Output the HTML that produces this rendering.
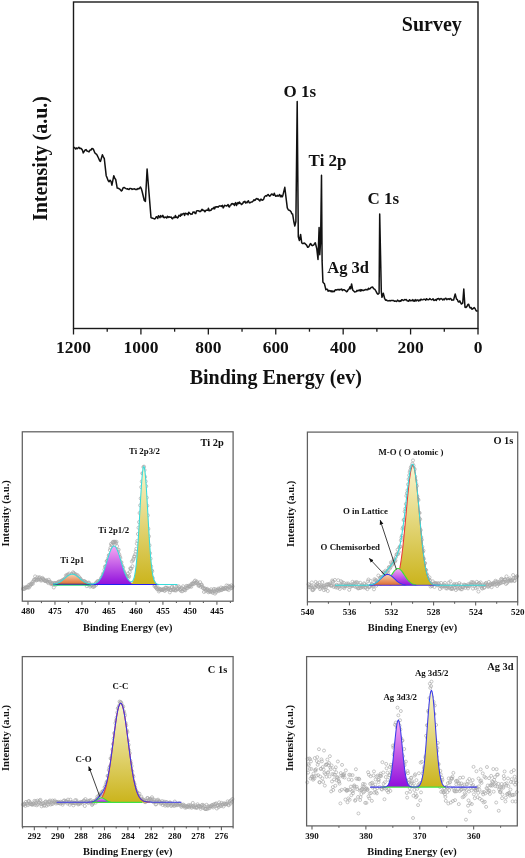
<!DOCTYPE html>
<html><head><meta charset="utf-8"><style>
html,body{margin:0;padding:0;background:#fff;}
svg{display:block;will-change:transform;}
text{font-family:"Liberation Serif", serif;font-weight:bold;fill:#111;}
</style></head><body>
<svg width="525" height="858" viewBox="0 0 525 858">
<defs>
<linearGradient id="gO" x1="0" y1="0" x2="0" y2="1"><stop offset="0" stop-color="#f8d2b4"/><stop offset="1" stop-color="#dc6a2c"/></linearGradient>
<linearGradient id="gP" x1="0" y1="0" x2="0" y2="1"><stop offset="0" stop-color="#f6aaf2"/><stop offset="1" stop-color="#9010dc"/></linearGradient>
<linearGradient id="gY" x1="0" y1="0" x2="0" y2="1"><stop offset="0" stop-color="#f9f5cf"/><stop offset="1" stop-color="#cbb41c"/></linearGradient>
<marker id="ah" viewBox="0 0 10 10" refX="9" refY="5" markerWidth="6" markerHeight="6" orient="auto"><path d="M0,1 L10,5 L0,9 Z" fill="#111"/></marker>
</defs>
<rect width="525" height="858" fill="#fff"/>
<rect x="73.5" y="2.0" width="404.5" height="326.5" fill="none" stroke="#1a1a1a" stroke-width="1.4"/>
<line x1="478" y1="328.5" x2="478" y2="334.5" stroke="#1a1a1a" stroke-width="1.3"/>
<line x1="444.29" y1="328.5" x2="444.29" y2="331.7" stroke="#1a1a1a" stroke-width="1.3"/>
<line x1="410.58" y1="328.5" x2="410.58" y2="334.5" stroke="#1a1a1a" stroke-width="1.3"/>
<line x1="376.88" y1="328.5" x2="376.88" y2="331.7" stroke="#1a1a1a" stroke-width="1.3"/>
<line x1="343.17" y1="328.5" x2="343.17" y2="334.5" stroke="#1a1a1a" stroke-width="1.3"/>
<line x1="309.46" y1="328.5" x2="309.46" y2="331.7" stroke="#1a1a1a" stroke-width="1.3"/>
<line x1="275.75" y1="328.5" x2="275.75" y2="334.5" stroke="#1a1a1a" stroke-width="1.3"/>
<line x1="242.04" y1="328.5" x2="242.04" y2="331.7" stroke="#1a1a1a" stroke-width="1.3"/>
<line x1="208.33" y1="328.5" x2="208.33" y2="334.5" stroke="#1a1a1a" stroke-width="1.3"/>
<line x1="174.62" y1="328.5" x2="174.62" y2="331.7" stroke="#1a1a1a" stroke-width="1.3"/>
<line x1="140.92" y1="328.5" x2="140.92" y2="334.5" stroke="#1a1a1a" stroke-width="1.3"/>
<line x1="107.21" y1="328.5" x2="107.21" y2="331.7" stroke="#1a1a1a" stroke-width="1.3"/>
<line x1="73.5" y1="328.5" x2="73.5" y2="334.5" stroke="#1a1a1a" stroke-width="1.3"/>
<text transform="translate(478,353.3) scale(1,0.95)" font-size="17.5" text-anchor="middle">0</text>
<text transform="translate(410.58,353.3) scale(1,0.95)" font-size="17.5" text-anchor="middle">200</text>
<text transform="translate(343.17,353.3) scale(1,0.95)" font-size="17.5" text-anchor="middle">400</text>
<text transform="translate(275.75,353.3) scale(1,0.95)" font-size="17.5" text-anchor="middle">600</text>
<text transform="translate(208.33,353.3) scale(1,0.95)" font-size="17.5" text-anchor="middle">800</text>
<text transform="translate(140.92,353.3) scale(1,0.95)" font-size="17.5" text-anchor="middle">1000</text>
<text transform="translate(73.5,353.3) scale(1,0.95)" font-size="17.5" text-anchor="middle">1200</text>
<text x="275.8" y="384.2" font-size="20" text-anchor="middle">Binding Energy (ev)</text>
<text transform="translate(47.2,158.6) rotate(-90)" font-size="20" text-anchor="middle">Intensity (a.u.)</text>
<text x="461.8" y="31" font-size="20" text-anchor="end">Survey</text>
<text x="283.6" y="97.3" font-size="17">O 1s</text>
<text x="308.6" y="165.6" font-size="17">Ti 2p</text>
<text x="367.6" y="204" font-size="17">C 1s</text>
<text x="327.3" y="273.1" font-size="16.5">Ag 3d</text>
<path d="M73.5,147.1 L74.6,147.7 L75.7,149 L76.47,147.97 L77.23,148.64 L78,148 L78.85,147.32 L79.7,148.42 L80.55,148.26 L81.4,148.7 L82.35,149.92 L83.3,152.9 L84.25,151.46 L85.2,150 L86.1,149.57 L87,151 L88,151.32 L89,151.9 L90,150.09 L91,150 L91.95,148.53 L92.9,148.7 L93.83,150.25 L94.77,152.75 L95.7,153.8 L96.47,154.11 L97.23,155.38 L98,157 L98.83,158.72 L99.67,160.83 L100.5,161.4 L102.4,154.8 L103.35,156.85 L104.3,158.6 L106.2,175.7 L107.15,177.89 L108.1,180.5 L109.07,181.75 L110.03,180.19 L111,181.4 L111.9,185.2 L113.8,175.7 L114.75,178.32 L115.7,179.5 L117.2,188.1 L118.04,188.26 L118.88,188.55 L119.72,189.08 L120.56,190.04 L121.4,191 L122.2,190.13 L123,188 L124.1,187.41 L125.2,188.1 L125.96,188.54 L126.72,188.94 L127.48,188.68 L128.24,189.32 L129,189.5 L129.78,188.53 L130.56,188.42 L131.34,188.61 L132.12,189.46 L132.9,189 L133.72,188.96 L134.54,188.83 L135.36,189.47 L136.18,189.31 L137,189.5 L137.88,188.5 L138.75,188.89 L139.62,188.1 L140.5,187.1 L141.25,188.54 L142,191 L144.3,200.5 L145.4,201.4 L147.1,169 L149,192.9 L151,217.6 L151.93,218.08 L152.87,218.32 L153.8,218.6 L154.6,218.95 L155.4,218.53 L156.2,216.72 L157,217 L157.73,218.49 L158.47,215.68 L159.2,216.59 L159.93,217.62 L160.67,215.64 L161.4,216.7 L162.12,216.72 L162.84,215.35 L163.56,217.42 L164.28,217.79 L165,217 L165.8,217.17 L166.6,218.08 L167.4,216.22 L168.2,217.38 L169,216.7 L169.72,217.14 L170.43,217.22 L171.15,216.96 L171.87,218.32 L172.58,218.79 L173.3,217.5 L174.01,217.23 L174.71,217.66 L175.42,215.54 L176.12,217.41 L176.83,217.05 L177.53,217.97 L178.24,217.24 L178.94,215.34 L179.65,215.48 L180.35,216.2 L181.06,213.95 L181.76,215.17 L182.47,214.04 L183.17,213.7 L183.88,213.33 L184.58,215.41 L185.29,213.18 L185.99,213.38 L186.7,214 L187.4,213.51 L188.1,214.9 L188.8,212.23 L189.5,213.27 L190.2,213.45 L190.9,214.37 L191.6,214.03 L192.3,214.03 L193,212.01 L193.7,212.31 L194.4,211.98 L195.1,213.52 L195.8,213.62 L196.5,210.89 L197.2,210.83 L197.9,210.87 L198.6,210.73 L199.3,211.39 L200,211.3 L200.7,211.45 L201.4,210.27 L202.1,209.3 L202.8,210.49 L203.5,210.2 L204.2,210.69 L204.9,211.79 L205.6,210.81 L206.3,210.12 L207,210.31 L207.7,210.36 L208.4,208.23 L209.1,210.8 L209.8,210.28 L210.5,210.45 L211.2,210.06 L211.9,208.63 L212.6,208.51 L213.3,208.7 L214.01,207.29 L214.71,208.85 L215.42,206.87 L216.12,206.75 L216.83,207.06 L217.53,206.77 L218.24,207.19 L218.94,206.13 L219.65,205.82 L220.35,206.16 L221.06,205.86 L221.76,206.56 L222.47,205.33 L223.17,207.91 L223.88,206.93 L224.58,205.3 L225.29,205.49 L225.99,205.65 L226.7,206 L227.4,205.42 L228.1,204.51 L228.8,206.69 L229.5,207.01 L230.2,205.18 L230.9,205.1 L231.6,203.68 L232.3,203.59 L233,204.22 L233.7,203.83 L234.4,205.49 L235.1,203.21 L235.8,202.63 L236.5,205.45 L237.2,203.96 L237.9,202.6 L238.6,203.72 L239.3,201.93 L240,203.3 L240.7,203.25 L241.4,204.56 L242.1,204.05 L242.8,203.38 L243.5,201.85 L244.2,202.05 L244.9,201.28 L245.6,203.08 L246.3,202.17 L247,202.82 L247.7,201.25 L248.4,200.77 L249.1,202.52 L249.8,202.94 L250.5,202.38 L251.2,202.09 L251.9,201.99 L252.6,201.6 L253.3,200.7 L254.03,199.7 L254.75,200.5 L255.48,199.86 L256.21,198.68 L256.94,198.55 L257.66,199.23 L258.39,199.04 L259.12,200.3 L259.85,201.02 L260.57,199.26 L261.3,199.3 L262.07,200.24 L262.84,199.95 L263.61,199.38 L264.39,197.04 L265.16,196.12 L265.93,195.68 L266.7,196.1 L267.46,194.83 L268.21,194.55 L268.97,195.6 L269.73,196.18 L270.49,195.69 L271.24,194.23 L272,194 L272.76,194.68 L273.51,195.33 L274.27,193.23 L275.03,195.26 L275.79,196.24 L276.54,196.02 L277.3,195.3 L278.07,196.21 L278.84,195.46 L279.61,194.61 L280.39,196.68 L281.16,195.34 L281.93,196.95 L282.7,196.1 L284.8,187.3 L285.9,196.7 L287.3,207.9 L288.4,209.99 L289.5,210.2 L290.27,210.92 L291.05,211.85 L291.83,213.87 L292.6,213.9 L293.8,221.5 L294.8,226.1 L295.9,221.5 L297.2,101.5 L298.3,236.7 L299.4,240.5 L300.6,234.4 L301.7,242.7 L302.45,243.55 L303.2,243.5 L303.97,243.07 L304.73,243.22 L305.5,244.2 L306.6,245.05 L307.7,247.3 L308.47,247.08 L309.23,245.85 L310,244.2 L310.76,243.65 L311.52,245.17 L312.28,245.64 L313.04,245.15 L313.8,245 L314.55,243.55 L315.3,242.7 L316.8,248.8 L318,259.4 L319.1,227.6 L319.8,254.8 L320.6,241.2 L321.5,175.2 L322.1,260.9 L322.9,282.1 L323.65,282.95 L324.4,283.6 L325.9,289.7 L326.65,289.16 L327.4,289.13 L328.15,291.24 L328.9,290.5 L329.67,290.92 L330.43,290.79 L331.2,291.72 L331.97,290.83 L332.73,291.83 L333.5,291.2 L334.3,291.55 L335.1,290.02 L335.9,289.8 L336.7,290 L337.52,289.55 L338.35,289.41 L339.18,290.06 L340,289.37 L340.82,289.65 L341.65,289.04 L342.48,290.56 L343.3,289.7 L344.1,289.73 L344.9,290.26 L345.7,290.83 L346.5,291.79 L347.3,291.3 L348.2,289.61 L349.1,289.07 L350,286.7 L350.7,288.7 L351.6,284 L352.7,290 L353.7,291 L354.7,292 L355.47,291.85 L356.23,291.61 L357,290.39 L357.77,291.01 L358.53,290.28 L359.3,290.7 L360.07,289.61 L360.84,291.1 L361.61,289.74 L362.39,290.25 L363.16,290.65 L363.93,290.21 L364.7,290 L365.46,289.47 L366.21,289.67 L366.97,289.55 L367.73,289.83 L368.49,288.28 L369.24,289.01 L370,288.7 L370.9,287.66 L371.8,287.19 L372.7,287.1 L373.57,288.61 L374.43,289.05 L375.3,290 L376.2,291.56 L377.1,293.39 L378,294.3 L379.1,293.3 L379.7,213.9 L381.3,291.3 L382,297.3 L383.3,293.3 L384.7,298.7 L385.57,300.19 L386.43,299.92 L387.3,300.7 L388.07,300.88 L388.84,300.63 L389.61,300.6 L390.39,300.91 L391.16,300.39 L391.93,300.51 L392.7,300.4 L393.51,300.39 L394.32,301.35 L395.13,300.9 L395.94,301.29 L396.76,301.45 L397.57,300.12 L398.38,300.75 L399.19,301.55 L400,300.7 L400.77,301.3 L401.55,299.82 L402.33,299.72 L403.1,300.4 L403.91,300.28 L404.72,299.55 L405.53,299.88 L406.34,299.55 L407.15,300.74 L407.96,300.97 L408.77,301.19 L409.58,299.71 L410.39,300.83 L411.2,300.4 L412.01,300.68 L412.82,299.61 L413.63,301.05 L414.44,301.18 L415.25,299.64 L416.06,301.07 L416.87,299.92 L417.68,300.05 L418.49,301.02 L419.3,300 L420.11,300.62 L420.92,299.24 L421.73,299.74 L422.54,299.87 L423.35,299.48 L424.16,299.15 L424.97,299.36 L425.78,300.12 L426.59,298.68 L427.4,299.6 L428.21,299.71 L429.02,299.48 L429.83,298.64 L430.64,299.26 L431.45,299.85 L432.26,299.62 L433.07,298.73 L433.88,300.57 L434.69,300.18 L435.5,299.6 L436.31,300.49 L437.12,298.71 L437.93,298.98 L438.74,298.48 L439.55,299.91 L440.36,298.84 L441.17,298.51 L441.98,299.04 L442.79,299.97 L443.6,299.1 L444.4,299.69 L445.2,298.52 L446,298.25 L446.8,299.74 L447.6,298.99 L448.4,298.8 L449.22,299.44 L450.04,298.46 L450.86,298.64 L451.68,300.14 L452.5,300 L453.6,300 L454.4,296.85 L455.2,294 L456.5,299.1 L457.3,299.49 L458.1,301.6 L458.95,302.08 L459.8,300.8 L460.6,302.67 L461.4,304 L462.7,303.2 L463.8,289.1 L465,307.2 L466,307.4 L467,306.4 L467.85,304.52 L468.7,304.3 L469.5,306.86 L470.3,308 L471.1,307.43 L471.9,309.33 L472.7,308.9 L473.5,308.16 L474.3,307.6 L475.15,308.73 L476,310.5 L476.8,311.01 L477.6,311.3" fill="none" stroke="#111" stroke-width="1.5" stroke-linejoin="round"/>
<g fill="none" stroke="#a6a6a6" stroke-width="0.65"><circle cx="23" cy="589.09" r="1.55"/><circle cx="23.55" cy="587.53" r="1.55"/><circle cx="24.1" cy="588.89" r="1.55"/><circle cx="24.65" cy="588.77" r="1.55"/><circle cx="25.2" cy="587.48" r="1.55"/><circle cx="25.75" cy="587.87" r="1.55"/><circle cx="26.3" cy="587.29" r="1.55"/><circle cx="26.85" cy="587.24" r="1.55"/><circle cx="27.4" cy="587.04" r="1.55"/><circle cx="27.95" cy="587.59" r="1.55"/><circle cx="28.5" cy="585.26" r="1.55"/><circle cx="29.05" cy="587.51" r="1.55"/><circle cx="29.6" cy="584.52" r="1.55"/><circle cx="30.15" cy="585.83" r="1.55"/><circle cx="30.7" cy="584.33" r="1.55"/><circle cx="31.25" cy="584.33" r="1.55"/><circle cx="31.8" cy="583.68" r="1.55"/><circle cx="32.35" cy="582.26" r="1.55"/><circle cx="32.9" cy="583.7" r="1.55"/><circle cx="33.45" cy="581.25" r="1.55"/><circle cx="34" cy="579.7" r="1.55"/><circle cx="34.55" cy="579.68" r="1.55"/><circle cx="35.1" cy="576.4" r="1.55"/><circle cx="35.65" cy="579.33" r="1.55"/><circle cx="36.2" cy="580.42" r="1.55"/><circle cx="36.75" cy="580.11" r="1.55"/><circle cx="37.3" cy="577.33" r="1.55"/><circle cx="37.85" cy="579.44" r="1.55"/><circle cx="38.4" cy="579.56" r="1.55"/><circle cx="38.95" cy="577.87" r="1.55"/><circle cx="39.5" cy="577.1" r="1.55"/><circle cx="40.05" cy="579.09" r="1.55"/><circle cx="40.6" cy="580.45" r="1.55"/><circle cx="41.15" cy="579.23" r="1.55"/><circle cx="41.7" cy="580.45" r="1.55"/><circle cx="42.25" cy="577.81" r="1.55"/><circle cx="42.8" cy="578.89" r="1.55"/><circle cx="43.35" cy="578.95" r="1.55"/><circle cx="43.9" cy="579.88" r="1.55"/><circle cx="44.45" cy="580.66" r="1.55"/><circle cx="45" cy="580.83" r="1.55"/><circle cx="45.55" cy="581.03" r="1.55"/><circle cx="46.1" cy="580.79" r="1.55"/><circle cx="46.65" cy="580.03" r="1.55"/><circle cx="47.2" cy="581.49" r="1.55"/><circle cx="47.75" cy="581.85" r="1.55"/><circle cx="48.3" cy="583.06" r="1.55"/><circle cx="48.85" cy="579.74" r="1.55"/><circle cx="49.4" cy="581.76" r="1.55"/><circle cx="49.95" cy="581.64" r="1.55"/><circle cx="50.5" cy="582.93" r="1.55"/><circle cx="51.05" cy="584.26" r="1.55"/><circle cx="51.6" cy="582.73" r="1.55"/><circle cx="52.15" cy="583.94" r="1.55"/><circle cx="52.7" cy="583.07" r="1.55"/><circle cx="53.25" cy="584.48" r="1.55"/><circle cx="53.8" cy="587.46" r="1.55"/><circle cx="54.35" cy="583.15" r="1.55"/><circle cx="54.9" cy="582.95" r="1.55"/><circle cx="55.45" cy="583.48" r="1.55"/><circle cx="56" cy="584.72" r="1.55"/><circle cx="56.55" cy="583.23" r="1.55"/><circle cx="57.1" cy="583.25" r="1.55"/><circle cx="57.65" cy="583.13" r="1.55"/><circle cx="58.2" cy="581.78" r="1.55"/><circle cx="58.75" cy="583.61" r="1.55"/><circle cx="59.3" cy="581.47" r="1.55"/><circle cx="59.85" cy="582.02" r="1.55"/><circle cx="60.4" cy="581.59" r="1.55"/><circle cx="60.95" cy="581.38" r="1.55"/><circle cx="61.5" cy="580.97" r="1.55"/><circle cx="62.05" cy="581.2" r="1.55"/><circle cx="62.6" cy="579.93" r="1.55"/><circle cx="63.15" cy="580.03" r="1.55"/><circle cx="63.7" cy="580.47" r="1.55"/><circle cx="64.25" cy="579.08" r="1.55"/><circle cx="64.8" cy="578.66" r="1.55"/><circle cx="65.35" cy="579.73" r="1.55"/><circle cx="65.9" cy="575.44" r="1.55"/><circle cx="66.45" cy="576.73" r="1.55"/><circle cx="67" cy="575.57" r="1.55"/><circle cx="67.55" cy="574.58" r="1.55"/><circle cx="68.1" cy="576.86" r="1.55"/><circle cx="68.65" cy="574.7" r="1.55"/><circle cx="69.2" cy="573.56" r="1.55"/><circle cx="69.75" cy="578.37" r="1.55"/><circle cx="70.3" cy="576.06" r="1.55"/><circle cx="70.85" cy="576.36" r="1.55"/><circle cx="71.4" cy="574.34" r="1.55"/><circle cx="71.95" cy="574.23" r="1.55"/><circle cx="72.5" cy="575.96" r="1.55"/><circle cx="73.05" cy="572.27" r="1.55"/><circle cx="73.6" cy="573.29" r="1.55"/><circle cx="74.15" cy="573.44" r="1.55"/><circle cx="74.7" cy="575.47" r="1.55"/><circle cx="75.25" cy="574.83" r="1.55"/><circle cx="75.8" cy="574.3" r="1.55"/><circle cx="76.35" cy="575.96" r="1.55"/><circle cx="76.9" cy="577.79" r="1.55"/><circle cx="77.45" cy="575.01" r="1.55"/><circle cx="78" cy="578.28" r="1.55"/><circle cx="78.55" cy="576.43" r="1.55"/><circle cx="79.1" cy="579.98" r="1.55"/><circle cx="79.65" cy="577.7" r="1.55"/><circle cx="80.2" cy="579.08" r="1.55"/><circle cx="80.75" cy="579.01" r="1.55"/><circle cx="81.3" cy="581.04" r="1.55"/><circle cx="81.85" cy="580.94" r="1.55"/><circle cx="82.4" cy="580.85" r="1.55"/><circle cx="82.95" cy="582.12" r="1.55"/><circle cx="83.5" cy="582.9" r="1.55"/><circle cx="84.05" cy="580.98" r="1.55"/><circle cx="84.6" cy="581.48" r="1.55"/><circle cx="85.15" cy="581.74" r="1.55"/><circle cx="85.7" cy="582.7" r="1.55"/><circle cx="86.25" cy="582.23" r="1.55"/><circle cx="86.8" cy="586.15" r="1.55"/><circle cx="87.35" cy="584.09" r="1.55"/><circle cx="87.9" cy="584.2" r="1.55"/><circle cx="88.45" cy="582.84" r="1.55"/><circle cx="89" cy="582.65" r="1.55"/><circle cx="89.55" cy="584.2" r="1.55"/><circle cx="90.1" cy="586.66" r="1.55"/><circle cx="90.65" cy="585.64" r="1.55"/><circle cx="91.2" cy="584.82" r="1.55"/><circle cx="91.75" cy="585.36" r="1.55"/><circle cx="92.3" cy="584.64" r="1.55"/><circle cx="92.85" cy="586.91" r="1.55"/><circle cx="93.4" cy="585.36" r="1.55"/><circle cx="93.95" cy="586.73" r="1.55"/><circle cx="94.5" cy="586.07" r="1.55"/><circle cx="95.05" cy="584.18" r="1.55"/><circle cx="95.6" cy="583.11" r="1.55"/><circle cx="96.15" cy="584.96" r="1.55"/><circle cx="96.7" cy="582.77" r="1.55"/><circle cx="97.25" cy="581.28" r="1.55"/><circle cx="97.8" cy="581.5" r="1.55"/><circle cx="98.35" cy="581.13" r="1.55"/><circle cx="98.9" cy="582.45" r="1.55"/><circle cx="99.45" cy="581.48" r="1.55"/><circle cx="100" cy="580.33" r="1.55"/><circle cx="100.55" cy="581.66" r="1.55"/><circle cx="101.1" cy="577.99" r="1.55"/><circle cx="101.65" cy="579.07" r="1.55"/><circle cx="102.2" cy="576.75" r="1.55"/><circle cx="102.75" cy="575.02" r="1.55"/><circle cx="103.3" cy="573.34" r="1.55"/><circle cx="103.85" cy="573.95" r="1.55"/><circle cx="104.4" cy="569.67" r="1.55"/><circle cx="104.95" cy="566.77" r="1.55"/><circle cx="105.5" cy="566.32" r="1.55"/><circle cx="106.05" cy="566.26" r="1.55"/><circle cx="106.6" cy="561.27" r="1.55"/><circle cx="107.15" cy="560.89" r="1.55"/><circle cx="107.7" cy="560.43" r="1.55"/><circle cx="108.25" cy="558.09" r="1.55"/><circle cx="108.8" cy="555.19" r="1.55"/><circle cx="109.35" cy="555.35" r="1.55"/><circle cx="109.9" cy="550.13" r="1.55"/><circle cx="110.45" cy="547.91" r="1.55"/><circle cx="111" cy="543.94" r="1.55"/><circle cx="111.55" cy="545.36" r="1.55"/><circle cx="112.1" cy="544.87" r="1.55"/><circle cx="112.65" cy="542.22" r="1.55"/><circle cx="113.2" cy="541.74" r="1.55"/><circle cx="113.75" cy="542.42" r="1.55"/><circle cx="114.3" cy="542.4" r="1.55"/><circle cx="114.85" cy="541.64" r="1.55"/><circle cx="115.4" cy="542.03" r="1.55"/><circle cx="115.95" cy="543.34" r="1.55"/><circle cx="116.5" cy="541.84" r="1.55"/><circle cx="117.05" cy="546.1" r="1.55"/><circle cx="117.6" cy="549.99" r="1.55"/><circle cx="118.15" cy="552.1" r="1.55"/><circle cx="118.7" cy="549.68" r="1.55"/><circle cx="119.25" cy="554.4" r="1.55"/><circle cx="119.8" cy="556.47" r="1.55"/><circle cx="120.35" cy="558.05" r="1.55"/><circle cx="120.9" cy="562.33" r="1.55"/><circle cx="121.45" cy="562.36" r="1.55"/><circle cx="122" cy="565.42" r="1.55"/><circle cx="122.55" cy="567.28" r="1.55"/><circle cx="123.1" cy="567.67" r="1.55"/><circle cx="123.65" cy="570.85" r="1.55"/><circle cx="124.2" cy="572.07" r="1.55"/><circle cx="124.75" cy="574.3" r="1.55"/><circle cx="125.3" cy="574.11" r="1.55"/><circle cx="125.85" cy="576.54" r="1.55"/><circle cx="126.4" cy="576.23" r="1.55"/><circle cx="126.95" cy="576.4" r="1.55"/><circle cx="127.5" cy="576.42" r="1.55"/><circle cx="128.05" cy="573.52" r="1.55"/><circle cx="128.6" cy="577.41" r="1.55"/><circle cx="129.15" cy="576.18" r="1.55"/><circle cx="129.7" cy="572.1" r="1.55"/><circle cx="130.25" cy="568.35" r="1.55"/><circle cx="130.8" cy="568.91" r="1.55"/><circle cx="131.35" cy="568.47" r="1.55"/><circle cx="131.9" cy="561.52" r="1.55"/><circle cx="132.45" cy="566.24" r="1.55"/><circle cx="133" cy="560.32" r="1.55"/><circle cx="133.55" cy="558.87" r="1.55"/><circle cx="134.1" cy="556.77" r="1.55"/><circle cx="134.65" cy="556.29" r="1.55"/><circle cx="135.2" cy="554.33" r="1.55"/><circle cx="135.75" cy="551.49" r="1.55"/><circle cx="136.3" cy="548.85" r="1.55"/><circle cx="136.85" cy="543.66" r="1.55"/><circle cx="137.4" cy="540.88" r="1.55"/><circle cx="137.95" cy="534.03" r="1.55"/><circle cx="138.5" cy="527.76" r="1.55"/><circle cx="139.05" cy="522.11" r="1.55"/><circle cx="139.6" cy="513.02" r="1.55"/><circle cx="140.15" cy="505.34" r="1.55"/><circle cx="140.7" cy="498.4" r="1.55"/><circle cx="141.25" cy="487.13" r="1.55"/><circle cx="141.8" cy="481.48" r="1.55"/><circle cx="142.35" cy="473.3" r="1.55"/><circle cx="142.9" cy="473.52" r="1.55"/><circle cx="143.45" cy="467.09" r="1.55"/><circle cx="144" cy="466.63" r="1.55"/><circle cx="144.55" cy="470.04" r="1.55"/><circle cx="145.1" cy="476.8" r="1.55"/><circle cx="145.65" cy="481.41" r="1.55"/><circle cx="146.2" cy="486.21" r="1.55"/><circle cx="146.75" cy="497.64" r="1.55"/><circle cx="147.3" cy="505.78" r="1.55"/><circle cx="147.85" cy="515.41" r="1.55"/><circle cx="148.4" cy="528.87" r="1.55"/><circle cx="148.95" cy="536.35" r="1.55"/><circle cx="149.5" cy="545.26" r="1.55"/><circle cx="150.05" cy="553.25" r="1.55"/><circle cx="150.6" cy="558.69" r="1.55"/><circle cx="151.15" cy="566.33" r="1.55"/><circle cx="151.7" cy="570.31" r="1.55"/><circle cx="152.25" cy="571.23" r="1.55"/><circle cx="152.8" cy="578.05" r="1.55"/><circle cx="153.35" cy="582.74" r="1.55"/><circle cx="153.9" cy="582.39" r="1.55"/><circle cx="154.45" cy="586.06" r="1.55"/><circle cx="155" cy="585.04" r="1.55"/><circle cx="155.55" cy="587.02" r="1.55"/><circle cx="156.1" cy="587.64" r="1.55"/><circle cx="156.65" cy="588.41" r="1.55"/><circle cx="157.2" cy="589.27" r="1.55"/><circle cx="157.75" cy="587.43" r="1.55"/><circle cx="158.3" cy="589.02" r="1.55"/><circle cx="158.85" cy="591.45" r="1.55"/><circle cx="159.4" cy="590.24" r="1.55"/><circle cx="159.95" cy="588.92" r="1.55"/><circle cx="160.5" cy="589.52" r="1.55"/><circle cx="161.05" cy="589.64" r="1.55"/><circle cx="161.6" cy="590" r="1.55"/><circle cx="162.15" cy="589.64" r="1.55"/><circle cx="162.7" cy="589.81" r="1.55"/><circle cx="163.25" cy="589.52" r="1.55"/><circle cx="163.8" cy="588.91" r="1.55"/><circle cx="164.35" cy="590.69" r="1.55"/><circle cx="164.9" cy="590.64" r="1.55"/><circle cx="165.45" cy="587.59" r="1.55"/><circle cx="166" cy="587.85" r="1.55"/><circle cx="166.55" cy="589.7" r="1.55"/><circle cx="167.1" cy="587.75" r="1.55"/><circle cx="167.65" cy="588.81" r="1.55"/><circle cx="168.2" cy="588.76" r="1.55"/><circle cx="168.75" cy="589.4" r="1.55"/><circle cx="169.3" cy="588.41" r="1.55"/><circle cx="169.85" cy="592.36" r="1.55"/><circle cx="170.4" cy="590.08" r="1.55"/><circle cx="170.95" cy="590.09" r="1.55"/><circle cx="171.5" cy="587.22" r="1.55"/><circle cx="172.05" cy="587.12" r="1.55"/><circle cx="172.6" cy="589.22" r="1.55"/><circle cx="173.15" cy="590.01" r="1.55"/><circle cx="173.7" cy="589.01" r="1.55"/><circle cx="174.25" cy="590.31" r="1.55"/><circle cx="174.8" cy="585.96" r="1.55"/><circle cx="175.35" cy="590.08" r="1.55"/><circle cx="175.9" cy="590.53" r="1.55"/><circle cx="176.45" cy="586.85" r="1.55"/><circle cx="177" cy="589.33" r="1.55"/><circle cx="177.55" cy="589.05" r="1.55"/><circle cx="178.1" cy="588.3" r="1.55"/><circle cx="178.65" cy="586.32" r="1.55"/><circle cx="179.2" cy="587.3" r="1.55"/><circle cx="179.75" cy="589.29" r="1.55"/><circle cx="180.3" cy="590.3" r="1.55"/><circle cx="180.85" cy="589" r="1.55"/><circle cx="181.4" cy="591.18" r="1.55"/><circle cx="181.95" cy="587.92" r="1.55"/><circle cx="182.5" cy="591.14" r="1.55"/><circle cx="183.05" cy="586.26" r="1.55"/><circle cx="183.6" cy="589.01" r="1.55"/><circle cx="184.15" cy="589.62" r="1.55"/><circle cx="184.7" cy="589.89" r="1.55"/><circle cx="185.25" cy="590.3" r="1.55"/><circle cx="185.8" cy="587.72" r="1.55"/><circle cx="186.35" cy="585.94" r="1.55"/><circle cx="186.9" cy="588.04" r="1.55"/><circle cx="187.45" cy="586.14" r="1.55"/><circle cx="188" cy="587.73" r="1.55"/><circle cx="188.55" cy="585.78" r="1.55"/><circle cx="189.1" cy="586.48" r="1.55"/><circle cx="189.65" cy="586.33" r="1.55"/><circle cx="190.2" cy="586.25" r="1.55"/><circle cx="190.75" cy="584.75" r="1.55"/><circle cx="191.3" cy="586.8" r="1.55"/><circle cx="191.85" cy="583.64" r="1.55"/><circle cx="192.4" cy="583.7" r="1.55"/><circle cx="192.95" cy="583.95" r="1.55"/><circle cx="193.5" cy="582.67" r="1.55"/><circle cx="194.05" cy="583.92" r="1.55"/><circle cx="194.6" cy="581.25" r="1.55"/><circle cx="195.15" cy="580.53" r="1.55"/><circle cx="195.7" cy="583.05" r="1.55"/><circle cx="196.25" cy="582.77" r="1.55"/><circle cx="196.8" cy="581.46" r="1.55"/><circle cx="197.35" cy="582.42" r="1.55"/><circle cx="197.9" cy="583.83" r="1.55"/><circle cx="198.45" cy="585.76" r="1.55"/><circle cx="199" cy="585.6" r="1.55"/><circle cx="199.55" cy="585.03" r="1.55"/><circle cx="200.1" cy="582.23" r="1.55"/><circle cx="200.65" cy="586.68" r="1.55"/><circle cx="201.2" cy="584.67" r="1.55"/><circle cx="201.75" cy="584.66" r="1.55"/><circle cx="202.3" cy="586.31" r="1.55"/><circle cx="202.85" cy="587.86" r="1.55"/><circle cx="203.4" cy="588.23" r="1.55"/><circle cx="203.95" cy="591.93" r="1.55"/><circle cx="204.5" cy="588.77" r="1.55"/><circle cx="205.05" cy="588.44" r="1.55"/><circle cx="205.6" cy="591.16" r="1.55"/><circle cx="206.15" cy="590" r="1.55"/><circle cx="206.7" cy="589.3" r="1.55"/><circle cx="207.25" cy="588.86" r="1.55"/><circle cx="207.8" cy="590.11" r="1.55"/><circle cx="208.35" cy="592.26" r="1.55"/><circle cx="208.9" cy="591.31" r="1.55"/><circle cx="209.45" cy="590.19" r="1.55"/><circle cx="210" cy="591.9" r="1.55"/><circle cx="210.55" cy="591.14" r="1.55"/><circle cx="211.1" cy="589.25" r="1.55"/><circle cx="211.65" cy="591.82" r="1.55"/><circle cx="212.2" cy="591.53" r="1.55"/><circle cx="212.75" cy="592.88" r="1.55"/><circle cx="213.3" cy="590.48" r="1.55"/><circle cx="213.85" cy="588.94" r="1.55"/><circle cx="214.4" cy="591.34" r="1.55"/><circle cx="214.95" cy="593.59" r="1.55"/><circle cx="215.5" cy="589.27" r="1.55"/><circle cx="216.05" cy="592.31" r="1.55"/><circle cx="216.6" cy="590.09" r="1.55"/><circle cx="217.15" cy="590.79" r="1.55"/><circle cx="217.7" cy="589.85" r="1.55"/><circle cx="218.25" cy="588.6" r="1.55"/><circle cx="218.8" cy="591.03" r="1.55"/><circle cx="219.35" cy="589.03" r="1.55"/><circle cx="219.9" cy="589.74" r="1.55"/><circle cx="220.45" cy="590.14" r="1.55"/><circle cx="221" cy="587.51" r="1.55"/><circle cx="221.55" cy="590.04" r="1.55"/><circle cx="222.1" cy="589.66" r="1.55"/><circle cx="222.65" cy="588.57" r="1.55"/><circle cx="223.2" cy="587.93" r="1.55"/><circle cx="223.75" cy="589.03" r="1.55"/><circle cx="224.3" cy="589.02" r="1.55"/><circle cx="224.85" cy="588.03" r="1.55"/><circle cx="225.4" cy="588.41" r="1.55"/><circle cx="225.95" cy="587.96" r="1.55"/><circle cx="226.5" cy="585.47" r="1.55"/><circle cx="227.05" cy="589.21" r="1.55"/><circle cx="227.6" cy="588.89" r="1.55"/><circle cx="228.15" cy="585.74" r="1.55"/><circle cx="228.7" cy="590" r="1.55"/><circle cx="229.25" cy="586.78" r="1.55"/><circle cx="229.8" cy="586.26" r="1.55"/><circle cx="230.35" cy="587.23" r="1.55"/><circle cx="230.9" cy="588.31" r="1.55"/><circle cx="231.45" cy="585.32" r="1.55"/><circle cx="232" cy="587.88" r="1.55"/><circle cx="232.55" cy="586.38" r="1.55"/></g>
<path d="M45.92,584.5 L45.92,584.48 L46.5,584.48 L47.09,584.47 L47.67,584.46 L48.26,584.45 L48.84,584.44 L49.42,584.42 L50.01,584.4 L50.59,584.37 L51.18,584.34 L51.76,584.3 L52.34,584.25 L52.93,584.18 L53.51,584.11 L54.1,584.02 L54.68,583.92 L55.26,583.8 L55.85,583.66 L56.43,583.5 L57.02,583.32 L57.6,583.11 L58.18,582.87 L58.77,582.6 L59.35,582.31 L59.94,581.99 L60.52,581.64 L61.1,581.26 L61.69,580.85 L62.27,580.41 L62.86,579.96 L63.44,579.49 L64.02,579 L64.61,578.5 L65.19,578 L65.78,577.51 L66.36,577.02 L66.94,576.55 L67.53,576.11 L68.11,575.69 L68.7,575.32 L69.28,574.99 L69.86,574.71 L70.45,574.49 L71.03,574.33 L71.62,574.23 L72.2,574.2 L72.78,574.23 L73.37,574.33 L73.95,574.49 L74.54,574.71 L75.12,574.99 L75.7,575.32 L76.29,575.69 L76.87,576.11 L77.46,576.55 L78.04,577.02 L78.62,577.51 L79.21,578 L79.79,578.5 L80.38,579 L80.96,579.49 L81.54,579.96 L82.13,580.41 L82.71,580.85 L83.3,581.26 L83.88,581.64 L84.46,581.99 L85.05,582.31 L85.63,582.6 L86.22,582.87 L86.8,583.11 L87.38,583.32 L87.97,583.5 L88.55,583.66 L89.14,583.8 L89.72,583.92 L90.3,584.02 L90.89,584.11 L91.47,584.18 L92.06,584.25 L92.64,584.3 L93.22,584.34 L93.81,584.37 L94.39,584.4 L94.98,584.42 L95.56,584.44 L96.14,584.45 L96.73,584.46 L97.31,584.47 L97.9,584.48 L98.48,584.48 L98.48,584.5 Z" fill="url(#gO)"/>
<path d="M88.8,584.5 L88.8,584.44 L89.36,584.42 L89.92,584.4 L90.48,584.36 L91.04,584.32 L91.6,584.27 L92.16,584.2 L92.72,584.12 L93.28,584.02 L93.84,583.89 L94.4,583.74 L94.96,583.55 L95.52,583.32 L96.08,583.05 L96.64,582.72 L97.2,582.34 L97.76,581.89 L98.32,581.37 L98.88,580.76 L99.44,580.07 L100,579.29 L100.56,578.41 L101.12,577.42 L101.68,576.32 L102.24,575.11 L102.8,573.8 L103.36,572.37 L103.92,570.85 L104.48,569.23 L105.04,567.53 L105.6,565.76 L106.16,563.94 L106.72,562.08 L107.28,560.22 L107.84,558.36 L108.4,556.54 L108.96,554.79 L109.52,553.13 L110.08,551.59 L110.64,550.19 L111.2,548.96 L111.76,547.92 L112.32,547.09 L112.88,546.49 L113.44,546.12 L114,546 L114.56,546.12 L115.12,546.49 L115.68,547.09 L116.24,547.92 L116.8,548.96 L117.36,550.19 L117.92,551.59 L118.48,553.13 L119.04,554.79 L119.6,556.54 L120.16,558.36 L120.72,560.22 L121.28,562.08 L121.84,563.94 L122.4,565.76 L122.96,567.53 L123.52,569.23 L124.08,570.85 L124.64,572.37 L125.2,573.8 L125.76,575.11 L126.32,576.32 L126.88,577.42 L127.44,578.41 L128,579.29 L128.56,580.07 L129.12,580.76 L129.68,581.37 L130.24,581.89 L130.8,582.34 L131.36,582.72 L131.92,583.05 L132.48,583.32 L133.04,583.55 L133.6,583.74 L134.16,583.89 L134.72,584.02 L135.28,584.12 L135.84,584.2 L136.4,584.27 L136.96,584.32 L137.52,584.36 L138.08,584.4 L138.64,584.42 L139.2,584.44 L139.2,584.5 Z" fill="url(#gP)"/>
<path d="M129.4,584.5 L129.4,584.32 L129.72,584.26 L130.04,584.18 L130.36,584.08 L130.68,583.96 L131,583.79 L131.32,583.59 L131.64,583.34 L131.96,583.02 L132.28,582.63 L132.6,582.16 L132.92,581.58 L133.24,580.88 L133.56,580.05 L133.88,579.05 L134.2,577.88 L134.52,576.5 L134.84,574.9 L135.16,573.05 L135.48,570.94 L135.8,568.53 L136.12,565.82 L136.44,562.79 L136.76,559.42 L137.08,555.73 L137.4,551.69 L137.72,547.33 L138.04,542.66 L138.36,537.7 L138.68,532.49 L139,527.06 L139.32,521.48 L139.64,515.79 L139.96,510.07 L140.28,504.38 L140.6,498.81 L140.92,493.44 L141.24,488.35 L141.56,483.62 L141.88,479.34 L142.2,475.57 L142.52,472.39 L142.84,469.85 L143.16,468 L143.48,466.88 L143.8,466.5 L144.12,466.88 L144.44,468 L144.76,469.85 L145.08,472.39 L145.4,475.57 L145.72,479.34 L146.04,483.62 L146.36,488.35 L146.68,493.44 L147,498.81 L147.32,504.38 L147.64,510.07 L147.96,515.79 L148.28,521.48 L148.6,527.06 L148.92,532.49 L149.24,537.7 L149.56,542.66 L149.88,547.33 L150.2,551.69 L150.52,555.73 L150.84,559.42 L151.16,562.79 L151.48,565.82 L151.8,568.53 L152.12,570.94 L152.44,573.05 L152.76,574.9 L153.08,576.5 L153.4,577.88 L153.72,579.05 L154.04,580.05 L154.36,580.88 L154.68,581.58 L155,582.16 L155.32,582.63 L155.64,583.02 L155.96,583.34 L156.28,583.59 L156.6,583.79 L156.92,583.96 L157.24,584.08 L157.56,584.18 L157.88,584.26 L158.2,584.32 L158.2,584.5 Z" fill="url(#gY)"/>
<line x1="53" y1="585.1" x2="91" y2="585.1" stroke="#30e080" stroke-width="1.1"/>
<line x1="53" y1="584.3" x2="91" y2="584.3" stroke="#1a2a9a" stroke-width="1.1"/>
<line x1="91" y1="584.5" x2="177" y2="584.5" stroke="#2020f0" stroke-width="1.1"/>
<path d="M53,584.18 L53.6,584.1 L54.2,584.01 L54.8,583.9 L55.41,583.77 L56.01,583.62 L56.61,583.45 L57.21,583.25 L57.81,583.02 L58.41,582.77 L59.01,582.48 L59.62,582.17 L60.22,581.82 L60.82,581.44 L61.42,581.04 L62.02,580.6 L62.62,580.14 L63.22,579.66 L63.83,579.17 L64.43,578.66 L65.03,578.14 L65.63,577.63 L66.23,577.13 L66.83,576.64 L67.43,576.18 L68.04,575.75 L68.64,575.36 L69.24,575.01 L69.84,574.72 L70.44,574.49 L71.04,574.33 L71.64,574.23 L72.25,574.2 L72.85,574.24 L73.45,574.35 L74.05,574.53 L74.65,574.77 L75.25,575.06 L75.86,575.41 L76.46,575.81 L77.06,576.25 L77.66,576.71 L78.26,577.2 L78.86,577.71 L79.46,578.22 L80.07,578.74 L80.67,579.24 L81.27,579.74 L81.87,580.22 L82.47,580.67 L83.07,581.1 L83.67,581.5 L84.28,581.87 L84.88,582.21 L85.48,582.52 L86.08,582.8 L86.68,583.04 L87.28,583.25 L87.88,583.44 L88.49,583.59 L89.09,583.72 L89.69,583.82 L90.29,583.9 L90.89,583.95 L91.49,583.97 L92.09,583.96 L92.7,583.92 L93.3,583.86 L93.9,583.75 L94.5,583.61 L95.1,583.42 L95.7,583.18 L96.3,582.88 L96.91,582.51 L97.51,582.08 L98.11,581.55 L98.71,580.94 L99.31,580.23 L99.91,579.41 L100.51,578.48 L101.12,577.42 L101.72,576.24 L102.32,574.93 L102.92,573.5 L103.52,571.94 L104.12,570.27 L104.72,568.5 L105.33,566.63 L105.93,564.7 L106.53,562.72 L107.13,560.71 L107.73,558.72 L108.33,556.76 L108.93,554.87 L109.54,553.08 L110.14,551.44 L110.74,549.96 L111.34,548.68 L111.94,547.63 L112.54,546.82 L113.14,546.29 L113.75,546.03 L114.35,546.05 L114.95,546.35 L115.55,546.93 L116.15,547.78 L116.75,548.87 L117.36,550.18 L117.96,551.68 L118.56,553.35 L119.16,555.16 L119.76,557.06 L120.36,559.03 L120.96,561.03 L121.57,563.03 L122.17,565.01 L122.77,566.93 L123.37,568.78 L123.97,570.54 L124.57,572.19 L125.17,573.73 L125.78,575.14 L126.38,576.43 L126.98,577.58 L127.58,578.6 L128.18,579.5 L128.78,580.26 L129.38,580.88 L129.99,581.36 L130.59,581.67 L131.19,581.79 L131.79,581.68 L132.39,581.26 L132.99,580.46 L133.59,579.18 L134.2,577.29 L134.8,574.66 L135.4,571.14 L136,566.6 L136.6,560.92 L137.2,554.06 L137.8,546.01 L138.41,536.88 L139.01,526.87 L139.61,516.3 L140.21,505.58 L140.81,495.21 L141.41,485.73 L142.01,477.68 L142.62,471.55 L143.22,467.74 L143.82,466.5 L144.42,467.91 L145.02,471.88 L145.62,478.14 L146.22,486.3 L146.83,495.86 L147.43,506.28 L148.03,517.02 L148.63,527.59 L149.23,537.57 L149.83,546.67 L150.43,554.68 L151.04,561.53 L151.64,567.19 L152.24,571.76 L152.84,575.32 L153.44,578.04 L154.04,580.06 L154.64,581.51 L155.25,582.53 L155.85,583.24 L156.45,583.71 L157.05,584.01 L157.65,584.21 L158.25,584.33 L158.86,584.4 L159.46,584.44 L160.06,584.47 L160.66,584.48 L161.26,584.49 L161.86,584.5 L162.46,584.5 L163.07,584.5 L163.67,584.5 L164.27,584.5 L164.87,584.5 L165.47,584.5 L166.07,584.5 L166.67,584.5 L167.28,584.5 L167.88,584.5 L168.48,584.5 L169.08,584.5 L169.68,584.5 L170.28,584.5 L170.88,584.5 L171.49,584.5 L172.09,584.5 L172.69,584.5 L173.29,584.5 L173.89,584.5 L174.49,584.5 L175.09,584.5 L175.7,584.5 L176.3,584.5 L176.9,584.5 L177.5,584.5" fill="none" stroke="#38dada" stroke-width="1.05"/>
<rect x="22.3" y="431.8" width="210.8" height="169.4" fill="none" stroke="#606060" stroke-width="1.25"/>
<line x1="230.4" y1="601.2" x2="230.4" y2="603.1" stroke="#606060" stroke-width="1.1"/>
<line x1="216.91" y1="601.2" x2="216.91" y2="604.8" stroke="#606060" stroke-width="1.1"/>
<text x="216.91" y="614" font-size="9" text-anchor="middle">445</text>
<line x1="203.41" y1="601.2" x2="203.41" y2="603.1" stroke="#606060" stroke-width="1.1"/>
<line x1="189.91" y1="601.2" x2="189.91" y2="604.8" stroke="#606060" stroke-width="1.1"/>
<text x="189.91" y="614" font-size="9" text-anchor="middle">450</text>
<line x1="176.42" y1="601.2" x2="176.42" y2="603.1" stroke="#606060" stroke-width="1.1"/>
<line x1="162.92" y1="601.2" x2="162.92" y2="604.8" stroke="#606060" stroke-width="1.1"/>
<text x="162.92" y="614" font-size="9" text-anchor="middle">455</text>
<line x1="149.43" y1="601.2" x2="149.43" y2="603.1" stroke="#606060" stroke-width="1.1"/>
<line x1="135.93" y1="601.2" x2="135.93" y2="604.8" stroke="#606060" stroke-width="1.1"/>
<text x="135.93" y="614" font-size="9" text-anchor="middle">460</text>
<line x1="122.44" y1="601.2" x2="122.44" y2="603.1" stroke="#606060" stroke-width="1.1"/>
<line x1="108.94" y1="601.2" x2="108.94" y2="604.8" stroke="#606060" stroke-width="1.1"/>
<text x="108.94" y="614" font-size="9" text-anchor="middle">465</text>
<line x1="95.45" y1="601.2" x2="95.45" y2="603.1" stroke="#606060" stroke-width="1.1"/>
<line x1="81.95" y1="601.2" x2="81.95" y2="604.8" stroke="#606060" stroke-width="1.1"/>
<text x="81.95" y="614" font-size="9" text-anchor="middle">470</text>
<line x1="68.45" y1="601.2" x2="68.45" y2="603.1" stroke="#606060" stroke-width="1.1"/>
<line x1="54.96" y1="601.2" x2="54.96" y2="604.8" stroke="#606060" stroke-width="1.1"/>
<text x="54.96" y="614" font-size="9" text-anchor="middle">475</text>
<line x1="41.46" y1="601.2" x2="41.46" y2="603.1" stroke="#606060" stroke-width="1.1"/>
<line x1="27.97" y1="601.2" x2="27.97" y2="604.8" stroke="#606060" stroke-width="1.1"/>
<text x="27.97" y="614" font-size="9" text-anchor="middle">480</text>
<text x="127.7" y="631" font-size="10.4" text-anchor="middle">Binding Energy (ev)</text>
<text transform="translate(8.9,513.3) rotate(-90)" font-size="10.6" text-anchor="middle">Intensity (a.u.)</text>
<text x="223.8" y="446.2" font-size="10.4" text-anchor="end">Ti 2p</text>
<text x="60.2" y="563" font-size="8.8">Ti 2p1</text>
<text x="98.2" y="533.3" font-size="8.8">Ti 2p1/2</text>
<text x="129" y="453.8" font-size="8.8">Ti 2p3/2</text>
<g fill="none" stroke="#a6a6a6" stroke-width="0.65"><circle cx="308.5" cy="584.25" r="1.55"/><circle cx="309.05" cy="587.25" r="1.55"/><circle cx="309.6" cy="585.12" r="1.55"/><circle cx="310.15" cy="586.93" r="1.55"/><circle cx="310.7" cy="587.54" r="1.55"/><circle cx="311.25" cy="585.78" r="1.55"/><circle cx="311.8" cy="582.47" r="1.55"/><circle cx="312.35" cy="590.14" r="1.55"/><circle cx="312.9" cy="589.77" r="1.55"/><circle cx="313.45" cy="589.7" r="1.55"/><circle cx="314" cy="586.25" r="1.55"/><circle cx="314.55" cy="587.69" r="1.55"/><circle cx="315.1" cy="587.47" r="1.55"/><circle cx="315.65" cy="582" r="1.55"/><circle cx="316.2" cy="585.03" r="1.55"/><circle cx="316.75" cy="585.95" r="1.55"/><circle cx="317.3" cy="583.56" r="1.55"/><circle cx="317.85" cy="586" r="1.55"/><circle cx="318.4" cy="586.9" r="1.55"/><circle cx="318.95" cy="584.93" r="1.55"/><circle cx="319.5" cy="582.53" r="1.55"/><circle cx="320.05" cy="589.14" r="1.55"/><circle cx="320.6" cy="587.83" r="1.55"/><circle cx="321.15" cy="586.02" r="1.55"/><circle cx="321.7" cy="587.01" r="1.55"/><circle cx="322.25" cy="582.1" r="1.55"/><circle cx="322.8" cy="586.14" r="1.55"/><circle cx="323.35" cy="585.71" r="1.55"/><circle cx="323.9" cy="590.12" r="1.55"/><circle cx="324.45" cy="587.44" r="1.55"/><circle cx="325" cy="585.37" r="1.55"/><circle cx="325.55" cy="589.17" r="1.55"/><circle cx="326.1" cy="587.13" r="1.55"/><circle cx="326.65" cy="584.32" r="1.55"/><circle cx="327.2" cy="584.73" r="1.55"/><circle cx="327.75" cy="590.97" r="1.55"/><circle cx="328.3" cy="584.21" r="1.55"/><circle cx="328.85" cy="584.32" r="1.55"/><circle cx="329.4" cy="585.07" r="1.55"/><circle cx="329.95" cy="583.58" r="1.55"/><circle cx="330.5" cy="585.42" r="1.55"/><circle cx="331.05" cy="585.63" r="1.55"/><circle cx="331.6" cy="585.61" r="1.55"/><circle cx="332.15" cy="580.52" r="1.55"/><circle cx="332.7" cy="581.9" r="1.55"/><circle cx="333.25" cy="581.47" r="1.55"/><circle cx="333.8" cy="586.98" r="1.55"/><circle cx="334.35" cy="585.63" r="1.55"/><circle cx="334.9" cy="579.93" r="1.55"/><circle cx="335.45" cy="586.23" r="1.55"/><circle cx="336" cy="587.45" r="1.55"/><circle cx="336.55" cy="584.73" r="1.55"/><circle cx="337.1" cy="585.33" r="1.55"/><circle cx="337.65" cy="587.67" r="1.55"/><circle cx="338.2" cy="580.28" r="1.55"/><circle cx="338.75" cy="585.53" r="1.55"/><circle cx="339.3" cy="586.93" r="1.55"/><circle cx="339.85" cy="588.92" r="1.55"/><circle cx="340.4" cy="585" r="1.55"/><circle cx="340.95" cy="581.22" r="1.55"/><circle cx="341.5" cy="585.73" r="1.55"/><circle cx="342.05" cy="582.32" r="1.55"/><circle cx="342.6" cy="584.39" r="1.55"/><circle cx="343.15" cy="587" r="1.55"/><circle cx="343.7" cy="582.82" r="1.55"/><circle cx="344.25" cy="588.23" r="1.55"/><circle cx="344.8" cy="586.58" r="1.55"/><circle cx="345.35" cy="585.99" r="1.55"/><circle cx="345.9" cy="585.33" r="1.55"/><circle cx="346.45" cy="583.64" r="1.55"/><circle cx="347" cy="585.83" r="1.55"/><circle cx="347.55" cy="585.53" r="1.55"/><circle cx="348.1" cy="583.45" r="1.55"/><circle cx="348.65" cy="584.67" r="1.55"/><circle cx="349.2" cy="589.83" r="1.55"/><circle cx="349.75" cy="584.74" r="1.55"/><circle cx="350.3" cy="587.02" r="1.55"/><circle cx="350.85" cy="585.17" r="1.55"/><circle cx="351.4" cy="586.16" r="1.55"/><circle cx="351.95" cy="585.8" r="1.55"/><circle cx="352.5" cy="581.84" r="1.55"/><circle cx="353.05" cy="585.33" r="1.55"/><circle cx="353.6" cy="583.78" r="1.55"/><circle cx="354.15" cy="585.83" r="1.55"/><circle cx="354.7" cy="582.65" r="1.55"/><circle cx="355.25" cy="586.83" r="1.55"/><circle cx="355.8" cy="583.62" r="1.55"/><circle cx="356.35" cy="582.05" r="1.55"/><circle cx="356.9" cy="587.16" r="1.55"/><circle cx="357.45" cy="582.63" r="1.55"/><circle cx="358" cy="588.35" r="1.55"/><circle cx="358.55" cy="588.21" r="1.55"/><circle cx="359.1" cy="584.53" r="1.55"/><circle cx="359.65" cy="588.04" r="1.55"/><circle cx="360.2" cy="582.78" r="1.55"/><circle cx="360.75" cy="587.87" r="1.55"/><circle cx="361.3" cy="585.81" r="1.55"/><circle cx="361.85" cy="586.87" r="1.55"/><circle cx="362.4" cy="585.33" r="1.55"/><circle cx="362.95" cy="586.55" r="1.55"/><circle cx="363.5" cy="587.44" r="1.55"/><circle cx="364.05" cy="583.35" r="1.55"/><circle cx="364.6" cy="584.24" r="1.55"/><circle cx="365.15" cy="587.21" r="1.55"/><circle cx="365.7" cy="587.85" r="1.55"/><circle cx="366.25" cy="585.1" r="1.55"/><circle cx="366.8" cy="585.67" r="1.55"/><circle cx="367.35" cy="589.14" r="1.55"/><circle cx="367.9" cy="581.28" r="1.55"/><circle cx="368.45" cy="579.55" r="1.55"/><circle cx="369" cy="587.04" r="1.55"/><circle cx="369.55" cy="586.47" r="1.55"/><circle cx="370.1" cy="586.67" r="1.55"/><circle cx="370.65" cy="580.99" r="1.55"/><circle cx="371.2" cy="585.24" r="1.55"/><circle cx="371.75" cy="584.25" r="1.55"/><circle cx="372.3" cy="584.13" r="1.55"/><circle cx="372.85" cy="585.32" r="1.55"/><circle cx="373.4" cy="586.25" r="1.55"/><circle cx="373.95" cy="589.32" r="1.55"/><circle cx="374.5" cy="579.17" r="1.55"/><circle cx="375.05" cy="580.75" r="1.55"/><circle cx="375.6" cy="579.89" r="1.55"/><circle cx="376.15" cy="585.77" r="1.55"/><circle cx="376.7" cy="580.58" r="1.55"/><circle cx="377.25" cy="582.31" r="1.55"/><circle cx="377.8" cy="582.23" r="1.55"/><circle cx="378.35" cy="575.57" r="1.55"/><circle cx="378.9" cy="582.6" r="1.55"/><circle cx="379.45" cy="581.52" r="1.55"/><circle cx="380" cy="577.97" r="1.55"/><circle cx="380.55" cy="577.42" r="1.55"/><circle cx="381.1" cy="577" r="1.55"/><circle cx="381.65" cy="578.04" r="1.55"/><circle cx="382.2" cy="576.95" r="1.55"/><circle cx="382.75" cy="577.38" r="1.55"/><circle cx="383.3" cy="572.46" r="1.55"/><circle cx="383.85" cy="572.47" r="1.55"/><circle cx="384.4" cy="573.72" r="1.55"/><circle cx="384.95" cy="573.23" r="1.55"/><circle cx="385.5" cy="570.66" r="1.55"/><circle cx="386.05" cy="574.43" r="1.55"/><circle cx="386.6" cy="571.55" r="1.55"/><circle cx="387.15" cy="571.85" r="1.55"/><circle cx="387.7" cy="570.55" r="1.55"/><circle cx="388.25" cy="572.49" r="1.55"/><circle cx="388.8" cy="567.3" r="1.55"/><circle cx="389.35" cy="567.15" r="1.55"/><circle cx="389.9" cy="568.48" r="1.55"/><circle cx="390.45" cy="567.34" r="1.55"/><circle cx="391" cy="562.35" r="1.55"/><circle cx="391.55" cy="563.66" r="1.55"/><circle cx="392.1" cy="565.01" r="1.55"/><circle cx="392.65" cy="563.87" r="1.55"/><circle cx="393.2" cy="561.61" r="1.55"/><circle cx="393.75" cy="559.41" r="1.55"/><circle cx="394.3" cy="560.27" r="1.55"/><circle cx="394.85" cy="561.56" r="1.55"/><circle cx="395.4" cy="560.51" r="1.55"/><circle cx="395.95" cy="557.02" r="1.55"/><circle cx="396.5" cy="554.46" r="1.55"/><circle cx="397.05" cy="554.16" r="1.55"/><circle cx="397.6" cy="549.69" r="1.55"/><circle cx="398.15" cy="554.03" r="1.55"/><circle cx="398.7" cy="552.06" r="1.55"/><circle cx="399.25" cy="547.85" r="1.55"/><circle cx="399.8" cy="546.75" r="1.55"/><circle cx="400.35" cy="546.41" r="1.55"/><circle cx="400.9" cy="540.31" r="1.55"/><circle cx="401.45" cy="537.39" r="1.55"/><circle cx="402" cy="535.68" r="1.55"/><circle cx="402.55" cy="528.83" r="1.55"/><circle cx="403.1" cy="527.23" r="1.55"/><circle cx="403.65" cy="520.1" r="1.55"/><circle cx="404.2" cy="519.57" r="1.55"/><circle cx="404.75" cy="511.57" r="1.55"/><circle cx="405.3" cy="508.71" r="1.55"/><circle cx="405.85" cy="504.04" r="1.55"/><circle cx="406.4" cy="495.91" r="1.55"/><circle cx="406.95" cy="493.11" r="1.55"/><circle cx="407.5" cy="490.23" r="1.55"/><circle cx="408.05" cy="484.42" r="1.55"/><circle cx="408.6" cy="479.17" r="1.55"/><circle cx="409.15" cy="475.33" r="1.55"/><circle cx="409.7" cy="472.07" r="1.55"/><circle cx="410.25" cy="470.27" r="1.55"/><circle cx="410.8" cy="467.29" r="1.55"/><circle cx="411.35" cy="468.59" r="1.55"/><circle cx="411.9" cy="465.7" r="1.55"/><circle cx="412.45" cy="463.74" r="1.55"/><circle cx="413" cy="460.4" r="1.55"/><circle cx="413.55" cy="465.56" r="1.55"/><circle cx="414.1" cy="468.51" r="1.55"/><circle cx="414.65" cy="469.32" r="1.55"/><circle cx="415.2" cy="476.57" r="1.55"/><circle cx="415.75" cy="480.58" r="1.55"/><circle cx="416.3" cy="483.84" r="1.55"/><circle cx="416.85" cy="486" r="1.55"/><circle cx="417.4" cy="496.58" r="1.55"/><circle cx="417.95" cy="499.27" r="1.55"/><circle cx="418.5" cy="499.99" r="1.55"/><circle cx="419.05" cy="512.84" r="1.55"/><circle cx="419.6" cy="512.94" r="1.55"/><circle cx="420.15" cy="519.22" r="1.55"/><circle cx="420.7" cy="530.09" r="1.55"/><circle cx="421.25" cy="537.08" r="1.55"/><circle cx="421.8" cy="539.73" r="1.55"/><circle cx="422.35" cy="546.78" r="1.55"/><circle cx="422.9" cy="551.82" r="1.55"/><circle cx="423.45" cy="550.59" r="1.55"/><circle cx="424" cy="558.78" r="1.55"/><circle cx="424.55" cy="563.32" r="1.55"/><circle cx="425.1" cy="563.16" r="1.55"/><circle cx="425.65" cy="569.89" r="1.55"/><circle cx="426.2" cy="570.15" r="1.55"/><circle cx="426.75" cy="574.08" r="1.55"/><circle cx="427.3" cy="575.41" r="1.55"/><circle cx="427.85" cy="580.62" r="1.55"/><circle cx="428.4" cy="579.08" r="1.55"/><circle cx="428.95" cy="579.45" r="1.55"/><circle cx="429.5" cy="577.46" r="1.55"/><circle cx="430.05" cy="580.35" r="1.55"/><circle cx="430.6" cy="586.56" r="1.55"/><circle cx="431.15" cy="584.07" r="1.55"/><circle cx="431.7" cy="585.75" r="1.55"/><circle cx="432.25" cy="585.94" r="1.55"/><circle cx="432.8" cy="581.31" r="1.55"/><circle cx="433.35" cy="583.54" r="1.55"/><circle cx="433.9" cy="583.89" r="1.55"/><circle cx="434.45" cy="586.99" r="1.55"/><circle cx="435" cy="582.94" r="1.55"/><circle cx="435.55" cy="583.89" r="1.55"/><circle cx="436.1" cy="583.81" r="1.55"/><circle cx="436.65" cy="583.15" r="1.55"/><circle cx="437.2" cy="584.75" r="1.55"/><circle cx="437.75" cy="585.41" r="1.55"/><circle cx="438.3" cy="583.37" r="1.55"/><circle cx="438.85" cy="583.53" r="1.55"/><circle cx="439.4" cy="585.62" r="1.55"/><circle cx="439.95" cy="589" r="1.55"/><circle cx="440.5" cy="585.74" r="1.55"/><circle cx="441.05" cy="582.9" r="1.55"/><circle cx="441.6" cy="586.36" r="1.55"/><circle cx="442.15" cy="587.55" r="1.55"/><circle cx="442.7" cy="586.2" r="1.55"/><circle cx="443.25" cy="586.02" r="1.55"/><circle cx="443.8" cy="584.42" r="1.55"/><circle cx="444.35" cy="585.71" r="1.55"/><circle cx="444.9" cy="582.84" r="1.55"/><circle cx="445.45" cy="586.24" r="1.55"/><circle cx="446" cy="588.33" r="1.55"/><circle cx="446.55" cy="586.09" r="1.55"/><circle cx="447.1" cy="588.41" r="1.55"/><circle cx="447.65" cy="587.07" r="1.55"/><circle cx="448.2" cy="585.75" r="1.55"/><circle cx="448.75" cy="582.71" r="1.55"/><circle cx="449.3" cy="587.76" r="1.55"/><circle cx="449.85" cy="586.17" r="1.55"/><circle cx="450.4" cy="581.41" r="1.55"/><circle cx="450.95" cy="589.05" r="1.55"/><circle cx="451.5" cy="588.15" r="1.55"/><circle cx="452.05" cy="588.58" r="1.55"/><circle cx="452.6" cy="588.87" r="1.55"/><circle cx="453.15" cy="585.21" r="1.55"/><circle cx="453.7" cy="585.87" r="1.55"/><circle cx="454.25" cy="583.98" r="1.55"/><circle cx="454.8" cy="587.84" r="1.55"/><circle cx="455.35" cy="585.01" r="1.55"/><circle cx="455.9" cy="590.02" r="1.55"/><circle cx="456.45" cy="583.98" r="1.55"/><circle cx="457" cy="587.27" r="1.55"/><circle cx="457.55" cy="588.64" r="1.55"/><circle cx="458.1" cy="586.03" r="1.55"/><circle cx="458.65" cy="584.96" r="1.55"/><circle cx="459.2" cy="583.11" r="1.55"/><circle cx="459.75" cy="588.28" r="1.55"/><circle cx="460.3" cy="587.84" r="1.55"/><circle cx="460.85" cy="589.24" r="1.55"/><circle cx="461.4" cy="584.67" r="1.55"/><circle cx="461.95" cy="589.3" r="1.55"/><circle cx="462.5" cy="586.91" r="1.55"/><circle cx="463.05" cy="587.34" r="1.55"/><circle cx="463.6" cy="586.62" r="1.55"/><circle cx="464.15" cy="584.57" r="1.55"/><circle cx="464.7" cy="585.09" r="1.55"/><circle cx="465.25" cy="587.9" r="1.55"/><circle cx="465.8" cy="585.05" r="1.55"/><circle cx="466.35" cy="585.85" r="1.55"/><circle cx="466.9" cy="585.84" r="1.55"/><circle cx="467.45" cy="586.49" r="1.55"/><circle cx="468" cy="588.36" r="1.55"/><circle cx="468.55" cy="584.01" r="1.55"/><circle cx="469.1" cy="586.36" r="1.55"/><circle cx="469.65" cy="584.48" r="1.55"/><circle cx="470.2" cy="585.53" r="1.55"/><circle cx="470.75" cy="584.2" r="1.55"/><circle cx="471.3" cy="582.16" r="1.55"/><circle cx="471.85" cy="584.61" r="1.55"/><circle cx="472.4" cy="582.34" r="1.55"/><circle cx="472.95" cy="588.6" r="1.55"/><circle cx="473.5" cy="582.4" r="1.55"/><circle cx="474.05" cy="584.11" r="1.55"/><circle cx="474.6" cy="585.84" r="1.55"/><circle cx="475.15" cy="584.35" r="1.55"/><circle cx="475.7" cy="588.11" r="1.55"/><circle cx="476.25" cy="584.85" r="1.55"/><circle cx="476.8" cy="581.86" r="1.55"/><circle cx="477.35" cy="587.36" r="1.55"/><circle cx="477.9" cy="584.28" r="1.55"/><circle cx="478.45" cy="591.56" r="1.55"/><circle cx="479" cy="583.01" r="1.55"/><circle cx="479.55" cy="583.85" r="1.55"/><circle cx="480.1" cy="585.01" r="1.55"/><circle cx="480.65" cy="582.4" r="1.55"/><circle cx="481.2" cy="586.35" r="1.55"/><circle cx="481.75" cy="587.96" r="1.55"/><circle cx="482.3" cy="588.57" r="1.55"/><circle cx="482.85" cy="585.87" r="1.55"/><circle cx="483.4" cy="584.56" r="1.55"/><circle cx="483.95" cy="587.74" r="1.55"/><circle cx="484.5" cy="587.48" r="1.55"/><circle cx="485.05" cy="584.26" r="1.55"/><circle cx="485.6" cy="583.54" r="1.55"/><circle cx="486.15" cy="582.86" r="1.55"/><circle cx="486.7" cy="585.04" r="1.55"/><circle cx="487.25" cy="584.44" r="1.55"/><circle cx="487.8" cy="586.21" r="1.55"/><circle cx="488.35" cy="586.84" r="1.55"/><circle cx="488.9" cy="581.95" r="1.55"/><circle cx="489.45" cy="585.42" r="1.55"/><circle cx="490" cy="585.23" r="1.55"/><circle cx="490.55" cy="583.48" r="1.55"/><circle cx="491.1" cy="584.55" r="1.55"/><circle cx="491.65" cy="587.16" r="1.55"/><circle cx="492.2" cy="584.05" r="1.55"/><circle cx="492.75" cy="583.81" r="1.55"/><circle cx="493.3" cy="583.05" r="1.55"/><circle cx="493.85" cy="584.41" r="1.55"/><circle cx="494.4" cy="582.51" r="1.55"/><circle cx="494.95" cy="584.61" r="1.55"/><circle cx="495.5" cy="580.74" r="1.55"/><circle cx="496.05" cy="581.71" r="1.55"/><circle cx="496.6" cy="583.95" r="1.55"/><circle cx="497.15" cy="585.93" r="1.55"/><circle cx="497.7" cy="581.71" r="1.55"/><circle cx="498.25" cy="582.96" r="1.55"/><circle cx="498.8" cy="584.19" r="1.55"/><circle cx="499.35" cy="581.93" r="1.55"/><circle cx="499.9" cy="583.05" r="1.55"/><circle cx="500.45" cy="583.16" r="1.55"/><circle cx="501" cy="579.38" r="1.55"/><circle cx="501.55" cy="578.76" r="1.55"/><circle cx="502.1" cy="582.51" r="1.55"/><circle cx="502.65" cy="579.77" r="1.55"/><circle cx="503.2" cy="581.83" r="1.55"/><circle cx="503.75" cy="582.09" r="1.55"/><circle cx="504.3" cy="579.92" r="1.55"/><circle cx="504.85" cy="579.32" r="1.55"/><circle cx="505.4" cy="579.58" r="1.55"/><circle cx="505.95" cy="583.91" r="1.55"/><circle cx="506.5" cy="576.39" r="1.55"/><circle cx="507.05" cy="582.93" r="1.55"/><circle cx="507.6" cy="580.87" r="1.55"/><circle cx="508.15" cy="579.28" r="1.55"/><circle cx="508.7" cy="581.38" r="1.55"/><circle cx="509.25" cy="580.36" r="1.55"/><circle cx="509.8" cy="578.43" r="1.55"/><circle cx="510.35" cy="580.09" r="1.55"/><circle cx="510.9" cy="580.49" r="1.55"/><circle cx="511.45" cy="581.09" r="1.55"/><circle cx="512" cy="580.29" r="1.55"/><circle cx="512.55" cy="579.78" r="1.55"/><circle cx="513.1" cy="575.05" r="1.55"/><circle cx="513.65" cy="578.27" r="1.55"/><circle cx="514.2" cy="580.74" r="1.55"/><circle cx="514.75" cy="580.86" r="1.55"/><circle cx="515.3" cy="577.58" r="1.55"/><circle cx="515.85" cy="577.87" r="1.55"/><circle cx="516.4" cy="576.87" r="1.55"/><circle cx="516.95" cy="576.18" r="1.55"/></g>
<path d="M389.04,585.3 L389.04,585.12 L389.56,585.06 L390.09,584.98 L390.61,584.88 L391.14,584.75 L391.66,584.59 L392.18,584.39 L392.71,584.14 L393.23,583.82 L393.76,583.44 L394.28,582.96 L394.8,582.39 L395.33,581.7 L395.85,580.87 L396.38,579.88 L396.9,578.72 L397.42,577.36 L397.95,575.78 L398.47,573.95 L399,571.86 L399.52,569.48 L400.04,566.79 L400.57,563.79 L401.09,560.46 L401.62,556.79 L402.14,552.79 L402.66,548.46 L403.19,543.82 L403.71,538.88 L404.24,533.68 L404.76,528.26 L405.28,522.66 L405.81,516.95 L406.33,511.18 L406.86,505.44 L407.38,499.79 L407.9,494.32 L408.43,489.1 L408.95,484.23 L409.48,479.77 L410,475.81 L410.52,472.42 L411.05,469.65 L411.57,467.56 L412.1,466.18 L412.62,465.54 L413.14,465.67 L413.67,466.56 L414.19,468.22 L414.72,470.59 L415.24,473.65 L415.76,477.33 L416.29,481.56 L416.81,486.28 L417.34,491.39 L417.86,496.82 L418.38,502.47 L418.91,508.26 L419.43,514.11 L419.96,519.95 L420.48,525.69 L421,531.28 L421.53,536.67 L422.05,541.8 L422.58,546.64 L423.1,551.17 L423.62,555.36 L424.15,559.2 L424.67,562.7 L425.2,565.86 L425.72,568.68 L426.24,571.19 L426.77,573.4 L427.29,575.32 L427.82,576.99 L428.34,578.42 L428.86,579.65 L429.39,580.68 L429.91,581.55 L430.44,582.28 L430.96,582.88 L431.48,583.38 L432.01,583.78 L432.53,584.11 L433.06,584.37 L433.58,584.58 L434.1,584.74 L434.63,584.87 L435.15,584.98 L435.68,585.06 L436.2,585.12 L436.2,585.3 Z" fill="url(#gY)"/>
<path d="M390.09,584.98 L390.61,584.88 L391.14,584.75 L391.66,584.59 L392.18,584.39 L392.71,584.14 L393.23,583.82 L393.76,583.44 L394.28,582.96 L394.8,582.39 L395.33,581.7 L395.85,580.87 L396.38,579.88 L396.9,578.72 L397.42,577.36 L397.95,575.78 L398.47,573.95 L399,571.86 L399.52,569.48 L400.04,566.79 L400.57,563.79 L401.09,560.46 L401.62,556.79 L402.14,552.79 L402.66,548.46 L403.19,543.82 L403.71,538.88 L404.24,533.68 L404.76,528.26 L405.28,522.66 L405.81,516.95 L406.33,511.18 L406.86,505.44 L407.38,499.79 L407.9,494.32 L408.43,489.1 L408.95,484.23 L409.48,479.77 L410,475.81 L410.52,472.42 L411.05,469.65 L411.57,467.56 L412.1,466.18 L412.62,465.54 L413.14,465.67 L413.67,466.56 L414.19,468.22 L414.72,470.59 L415.24,473.65 L415.76,477.33 L416.29,481.56 L416.81,486.28 L417.34,491.39 L417.86,496.82 L418.38,502.47 L418.91,508.26 L419.43,514.11 L419.96,519.95 L420.48,525.69 L421,531.28 L421.53,536.67 L422.05,541.8 L422.58,546.64 L423.1,551.17 L423.62,555.36 L424.15,559.2 L424.67,562.7 L425.2,565.86 L425.72,568.68 L426.24,571.19 L426.77,573.4 L427.29,575.32 L427.82,576.99 L428.34,578.42 L428.86,579.65 L429.39,580.68 L429.91,581.55 L430.44,582.28 L430.96,582.88 L431.48,583.38 L432.01,583.78 L432.53,584.11 L433.06,584.37 L433.58,584.58 L434.1,584.74 L434.63,584.87 L435.15,584.98" fill="none" stroke="#e83a3a" stroke-width="1.05"/>
<path d="M374.6,585.3 L374.6,585.27 L375.12,585.27 L375.64,585.25 L376.16,585.24 L376.68,585.22 L377.2,585.2 L377.72,585.17 L378.24,585.13 L378.76,585.09 L379.28,585.03 L379.8,584.97 L380.32,584.88 L380.84,584.78 L381.36,584.67 L381.88,584.52 L382.4,584.36 L382.92,584.16 L383.44,583.93 L383.96,583.67 L384.48,583.37 L385,583.03 L385.52,582.64 L386.04,582.21 L386.56,581.73 L387.08,581.2 L387.6,580.63 L388.12,580.01 L388.64,579.34 L389.16,578.64 L389.68,577.89 L390.2,577.12 L390.72,576.33 L391.24,575.52 L391.76,574.7 L392.28,573.89 L392.8,573.1 L393.32,572.34 L393.84,571.61 L394.36,570.94 L394.88,570.33 L395.4,569.79 L395.92,569.34 L396.44,568.98 L396.96,568.71 L397.48,568.55 L398,568.5 L398.52,568.55 L399.04,568.71 L399.56,568.98 L400.08,569.34 L400.6,569.79 L401.12,570.33 L401.64,570.94 L402.16,571.61 L402.68,572.34 L403.2,573.1 L403.72,573.89 L404.24,574.7 L404.76,575.52 L405.28,576.33 L405.8,577.12 L406.32,577.89 L406.84,578.64 L407.36,579.34 L407.88,580.01 L408.4,580.63 L408.92,581.2 L409.44,581.73 L409.96,582.21 L410.48,582.64 L411,583.03 L411.52,583.37 L412.04,583.67 L412.56,583.93 L413.08,584.16 L413.6,584.36 L414.12,584.52 L414.64,584.67 L415.16,584.78 L415.68,584.88 L416.2,584.97 L416.72,585.03 L417.24,585.09 L417.76,585.13 L418.28,585.17 L418.8,585.2 L419.32,585.22 L419.84,585.24 L420.36,585.25 L420.88,585.27 L421.4,585.27 L421.4,585.3 Z" fill="url(#gP)"/>
<path d="M379.8,584.97 L380.32,584.88 L380.84,584.78 L381.36,584.67 L381.88,584.52 L382.4,584.36 L382.92,584.16 L383.44,583.93 L383.96,583.67 L384.48,583.37 L385,583.03 L385.52,582.64 L386.04,582.21 L386.56,581.73 L387.08,581.2 L387.6,580.63 L388.12,580.01 L388.64,579.34 L389.16,578.64 L389.68,577.89 L390.2,577.12 L390.72,576.33 L391.24,575.52 L391.76,574.7 L392.28,573.89 L392.8,573.1 L393.32,572.34 L393.84,571.61 L394.36,570.94 L394.88,570.33 L395.4,569.79 L395.92,569.34 L396.44,568.98 L396.96,568.71 L397.48,568.55 L398,568.5 L398.52,568.55 L399.04,568.71 L399.56,568.98 L400.08,569.34 L400.6,569.79 L401.12,570.33 L401.64,570.94 L402.16,571.61 L402.68,572.34 L403.2,573.1 L403.72,573.89 L404.24,574.7 L404.76,575.52 L405.28,576.33 L405.8,577.12 L406.32,577.89 L406.84,578.64 L407.36,579.34 L407.88,580.01 L408.4,580.63 L408.92,581.2 L409.44,581.73 L409.96,582.21 L410.48,582.64 L411,583.03 L411.52,583.37 L412.04,583.67 L412.56,583.93 L413.08,584.16 L413.6,584.36 L414.12,584.52 L414.64,584.67 L415.16,584.78 L415.68,584.88 L416.2,584.97" fill="none" stroke="#38e038" stroke-width="1.05"/>
<path d="M363.12,585.3 L363.12,585.28 L363.66,585.28 L364.21,585.27 L364.75,585.26 L365.3,585.25 L365.84,585.23 L366.38,585.22 L366.93,585.19 L367.47,585.16 L368.02,585.13 L368.56,585.08 L369.1,585.03 L369.65,584.97 L370.19,584.89 L370.74,584.8 L371.28,584.69 L371.82,584.56 L372.37,584.41 L372.91,584.24 L373.46,584.05 L374,583.82 L374.54,583.57 L375.09,583.29 L375.63,582.98 L376.18,582.64 L376.72,582.27 L377.26,581.87 L377.81,581.43 L378.35,580.98 L378.9,580.5 L379.44,579.99 L379.98,579.48 L380.53,578.95 L381.07,578.42 L381.62,577.9 L382.16,577.38 L382.7,576.89 L383.25,576.42 L383.79,575.98 L384.34,575.59 L384.88,575.24 L385.42,574.94 L385.97,574.71 L386.51,574.54 L387.06,574.43 L387.6,574.4 L388.14,574.43 L388.69,574.54 L389.23,574.71 L389.78,574.94 L390.32,575.24 L390.86,575.59 L391.41,575.98 L391.95,576.42 L392.5,576.89 L393.04,577.38 L393.58,577.9 L394.13,578.42 L394.67,578.95 L395.22,579.48 L395.76,579.99 L396.3,580.5 L396.85,580.98 L397.39,581.43 L397.94,581.87 L398.48,582.27 L399.02,582.64 L399.57,582.98 L400.11,583.29 L400.66,583.57 L401.2,583.82 L401.74,584.05 L402.29,584.24 L402.83,584.41 L403.38,584.56 L403.92,584.69 L404.46,584.8 L405.01,584.89 L405.55,584.97 L406.1,585.03 L406.64,585.08 L407.18,585.13 L407.73,585.16 L408.27,585.19 L408.82,585.22 L409.36,585.23 L409.9,585.25 L410.45,585.26 L410.99,585.27 L411.54,585.28 L412.08,585.28 L412.08,585.3 Z" fill="url(#gO)"/>
<path d="M369.65,584.97 L370.19,584.89 L370.74,584.8 L371.28,584.69 L371.82,584.56 L372.37,584.41 L372.91,584.24 L373.46,584.05 L374,583.82 L374.54,583.57 L375.09,583.29 L375.63,582.98 L376.18,582.64 L376.72,582.27 L377.26,581.87 L377.81,581.43 L378.35,580.98 L378.9,580.5 L379.44,579.99 L379.98,579.48 L380.53,578.95 L381.07,578.42 L381.62,577.9 L382.16,577.38 L382.7,576.89 L383.25,576.42 L383.79,575.98 L384.34,575.59 L384.88,575.24 L385.42,574.94 L385.97,574.71 L386.51,574.54 L387.06,574.43 L387.6,574.4 L388.14,574.43 L388.69,574.54 L389.23,574.71 L389.78,574.94 L390.32,575.24 L390.86,575.59 L391.41,575.98 L391.95,576.42 L392.5,576.89 L393.04,577.38 L393.58,577.9 L394.13,578.42 L394.67,578.95 L395.22,579.48 L395.76,579.99 L396.3,580.5 L396.85,580.98 L397.39,581.43 L397.94,581.87 L398.48,582.27 L399.02,582.64 L399.57,582.98 L400.11,583.29 L400.66,583.57 L401.2,583.82 L401.74,584.05 L402.29,584.24 L402.83,584.41 L403.38,584.56 L403.92,584.69 L404.46,584.8 L405.01,584.89 L405.55,584.97" fill="none" stroke="#3636f0" stroke-width="1.05"/>
<line x1="369" y1="585.3" x2="440" y2="585.3" stroke="#4a3ae0" stroke-width="1.1"/>
<path d="M335,585.3 L335.6,585.3 L336.2,585.3 L336.8,585.3 L337.4,585.3 L338,585.3 L338.6,585.3 L339.2,585.3 L339.8,585.3 L340.4,585.3 L341,585.3 L341.6,585.3 L342.2,585.3 L342.8,585.3 L343.4,585.3 L344,585.3 L344.6,585.3 L345.2,585.3 L345.8,585.3 L346.4,585.3 L347,585.3 L347.6,585.3 L348.2,585.3 L348.8,585.3 L349.4,585.3 L350,585.3 L350.6,585.3 L351.2,585.3 L351.8,585.3 L352.4,585.3 L353,585.3 L353.6,585.3 L354.2,585.3 L354.8,585.3 L355.4,585.3 L356,585.3 L356.6,585.3 L357.2,585.3 L357.8,585.3 L358.4,585.3 L359,585.3 L359.6,585.3 L360.2,585.3 L360.8,585.3 L361.4,585.29 L362,585.29 L362.6,585.29 L363.2,585.28 L363.8,585.28 L364.4,585.27 L365,585.26 L365.6,585.24 L366.2,585.22 L366.8,585.2 L367.4,585.17 L368,585.13 L368.6,585.08 L369.2,585.02 L369.8,584.94 L370.4,584.85 L371,584.74 L371.6,584.61 L372.2,584.45 L372.8,584.27 L373.4,584.06 L374,583.81 L374.6,583.52 L375.2,583.2 L375.8,582.83 L376.4,582.42 L377,581.97 L377.6,581.48 L378.2,580.94 L378.8,580.37 L379.4,579.75 L380,579.1 L380.6,578.41 L381.2,577.7 L381.8,576.96 L382.4,576.21 L383,575.44 L383.6,574.67 L384.2,573.89 L384.8,573.11 L385.4,572.33 L386,571.56 L386.6,570.8 L387.2,570.04 L387.8,569.3 L388.4,568.55 L389,567.82 L389.6,567.08 L390.2,566.34 L390.8,565.59 L391.4,564.82 L392,564.04 L392.6,563.22 L393.2,562.37 L393.8,561.46 L394.4,560.49 L395,559.44 L395.6,558.3 L396.2,557.03 L396.8,555.63 L397.4,554.06 L398,552.3 L398.6,550.32 L399.2,548.09 L399.8,545.6 L400.4,542.8 L401,539.7 L401.6,536.27 L402.2,532.51 L402.8,528.43 L403.4,524.04 L404,519.37 L404.6,514.47 L405.2,509.37 L405.8,504.16 L406.4,498.9 L407,493.68 L407.6,488.6 L408.2,483.75 L408.8,479.24 L409.4,475.16 L410,471.61 L410.6,468.67 L411.2,466.43 L411.8,464.93 L412.4,464.24 L413,464.37 L413.6,465.45 L414.2,467.49 L414.8,470.44 L415.4,474.24 L416,478.81 L416.6,484.04 L417.2,489.82 L417.8,496.02 L418.4,502.52 L419,509.2 L419.6,515.92 L420.2,522.59 L420.8,529.09 L421.4,535.35 L422,541.28 L422.6,546.84 L423.2,551.98 L423.8,556.68 L424.4,560.92 L425,564.72 L425.6,568.06 L426.2,570.99 L426.8,573.52 L427.4,575.69 L428,577.52 L428.6,579.06 L429.2,580.33 L429.8,581.38 L430.4,582.24 L431,582.92 L431.6,583.47 L432.2,583.91 L432.8,584.25 L433.4,584.51 L434,584.71 L434.6,584.87 L435.2,584.98 L435.8,585.07 L436.4,585.14 L437,585.18 L437.6,585.22 L438.2,585.24 L438.8,585.26 L439.4,585.27 L440,585.28 L440.6,585.29 L441.2,585.29 L441.8,585.29 L442.4,585.3 L443,585.3 L443.6,585.3 L444.2,585.3 L444.8,585.3 L445.4,585.3 L446,585.3 L446.6,585.3 L447.2,585.3 L447.8,585.3 L448.4,585.3 L449,585.3 L449.6,585.3 L450.2,585.3 L450.8,585.3 L451.4,585.3 L452,585.3 L452.6,585.3 L453.2,585.3 L453.8,585.3 L454.4,585.3 L455,585.3 L455.6,585.3 L456.2,585.3 L456.8,585.3 L457.4,585.3 L458,585.3 L458.6,585.3 L459.2,585.3 L459.8,585.3 L460.4,585.3 L461,585.3 L461.6,585.3 L462.2,585.3 L462.8,585.3 L463.4,585.3 L464,585.3 L464.6,585.3 L465.2,585.3 L465.8,585.3 L466.4,585.3 L467,585.3 L467.6,585.3 L468.2,585.3 L468.8,585.3 L469.4,585.3 L470,585.3 L470.6,585.3 L471.2,585.3 L471.8,585.3 L472.4,585.3 L473,585.3 L473.6,585.3 L474.2,585.3 L474.8,585.3 L475.4,585.3 L476,585.3 L476.6,585.3 L477.2,585.3 L477.8,585.3 L478.4,585.3 L479,585.3 L479.6,585.3 L480.2,585.3 L480.8,585.3 L481.4,585.3 L482,585.3 L482.6,585.3 L483.2,585.3 L483.8,585.3 L484.4,585.3 L485,585.3 L485.6,585.3" fill="none" stroke="#38dada" stroke-width="1.05"/>
<rect x="307.4" y="432.1" width="210.3" height="169.7" fill="none" stroke="#606060" stroke-width="1.25"/>
<line x1="517.7" y1="601.8" x2="517.7" y2="605.4" stroke="#606060" stroke-width="1.1"/>
<text x="517.7" y="614.6" font-size="9" text-anchor="middle">520</text>
<line x1="496.67" y1="601.8" x2="496.67" y2="603.7" stroke="#606060" stroke-width="1.1"/>
<line x1="475.64" y1="601.8" x2="475.64" y2="605.4" stroke="#606060" stroke-width="1.1"/>
<text x="475.64" y="614.6" font-size="9" text-anchor="middle">524</text>
<line x1="454.61" y1="601.8" x2="454.61" y2="603.7" stroke="#606060" stroke-width="1.1"/>
<line x1="433.58" y1="601.8" x2="433.58" y2="605.4" stroke="#606060" stroke-width="1.1"/>
<text x="433.58" y="614.6" font-size="9" text-anchor="middle">528</text>
<line x1="412.55" y1="601.8" x2="412.55" y2="603.7" stroke="#606060" stroke-width="1.1"/>
<line x1="391.52" y1="601.8" x2="391.52" y2="605.4" stroke="#606060" stroke-width="1.1"/>
<text x="391.52" y="614.6" font-size="9" text-anchor="middle">532</text>
<line x1="370.49" y1="601.8" x2="370.49" y2="603.7" stroke="#606060" stroke-width="1.1"/>
<line x1="349.46" y1="601.8" x2="349.46" y2="605.4" stroke="#606060" stroke-width="1.1"/>
<text x="349.46" y="614.6" font-size="9" text-anchor="middle">536</text>
<line x1="328.43" y1="601.8" x2="328.43" y2="603.7" stroke="#606060" stroke-width="1.1"/>
<line x1="307.4" y1="601.8" x2="307.4" y2="605.4" stroke="#606060" stroke-width="1.1"/>
<text x="307.4" y="614.6" font-size="9" text-anchor="middle">540</text>
<text x="412.55" y="631.2" font-size="10.4" text-anchor="middle">Binding Energy (ev)</text>
<text transform="translate(293.6,513.8) rotate(-90)" font-size="10.6" text-anchor="middle">Intensity (a.u.)</text>
<text x="513.3" y="443.5" font-size="10.4" text-anchor="end">O 1s</text>
<text x="378.5" y="454.9" font-size="8.8">M-O ( O atomic )</text>
<text x="342.9" y="514.3" font-size="8.8">O in Lattice</text>
<text x="320.6" y="549.9" font-size="8.8">O Chemisorbed</text>
<line x1="396.4" y1="569.5" x2="380.2" y2="520.3" stroke="#111" stroke-width="0.8" marker-end="url(#ah)"/>
<line x1="385" y1="575.2" x2="369.3" y2="558.4" stroke="#111" stroke-width="0.8" marker-end="url(#ah)"/>
<g fill="none" stroke="#a6a6a6" stroke-width="0.65"><circle cx="23" cy="804.46" r="1.55"/><circle cx="23.6" cy="805.04" r="1.55"/><circle cx="24.2" cy="803.63" r="1.55"/><circle cx="24.8" cy="804.24" r="1.55"/><circle cx="25.4" cy="805.89" r="1.55"/><circle cx="26" cy="801.92" r="1.55"/><circle cx="26.6" cy="803.65" r="1.55"/><circle cx="27.2" cy="803.49" r="1.55"/><circle cx="27.8" cy="805.12" r="1.55"/><circle cx="28.4" cy="801.43" r="1.55"/><circle cx="29" cy="801.03" r="1.55"/><circle cx="29.6" cy="804.14" r="1.55"/><circle cx="30.2" cy="802.45" r="1.55"/><circle cx="30.8" cy="803.86" r="1.55"/><circle cx="31.4" cy="804.42" r="1.55"/><circle cx="32" cy="804.19" r="1.55"/><circle cx="32.6" cy="804.86" r="1.55"/><circle cx="33.2" cy="803.78" r="1.55"/><circle cx="33.8" cy="803.4" r="1.55"/><circle cx="34.4" cy="800.91" r="1.55"/><circle cx="35" cy="804.78" r="1.55"/><circle cx="35.6" cy="801.25" r="1.55"/><circle cx="36.2" cy="803.1" r="1.55"/><circle cx="36.8" cy="805.3" r="1.55"/><circle cx="37.4" cy="800.66" r="1.55"/><circle cx="38" cy="804.34" r="1.55"/><circle cx="38.6" cy="801.97" r="1.55"/><circle cx="39.2" cy="803" r="1.55"/><circle cx="39.8" cy="800.56" r="1.55"/><circle cx="40.4" cy="799.91" r="1.55"/><circle cx="41" cy="803.79" r="1.55"/><circle cx="41.6" cy="806.31" r="1.55"/><circle cx="42.2" cy="804.3" r="1.55"/><circle cx="42.8" cy="803.16" r="1.55"/><circle cx="43.4" cy="803.25" r="1.55"/><circle cx="44" cy="805.62" r="1.55"/><circle cx="44.6" cy="805.46" r="1.55"/><circle cx="45.2" cy="802.04" r="1.55"/><circle cx="45.8" cy="801.39" r="1.55"/><circle cx="46.4" cy="805.81" r="1.55"/><circle cx="47" cy="802.31" r="1.55"/><circle cx="47.6" cy="803.89" r="1.55"/><circle cx="48.2" cy="804.71" r="1.55"/><circle cx="48.8" cy="801.56" r="1.55"/><circle cx="49.4" cy="801.94" r="1.55"/><circle cx="50" cy="800.53" r="1.55"/><circle cx="50.6" cy="804.51" r="1.55"/><circle cx="51.2" cy="802.46" r="1.55"/><circle cx="51.8" cy="804" r="1.55"/><circle cx="52.4" cy="800.56" r="1.55"/><circle cx="53" cy="803.7" r="1.55"/><circle cx="53.6" cy="801.26" r="1.55"/><circle cx="54.2" cy="802.25" r="1.55"/><circle cx="54.8" cy="800.5" r="1.55"/><circle cx="55.4" cy="802.13" r="1.55"/><circle cx="56" cy="803.53" r="1.55"/><circle cx="56.6" cy="802.02" r="1.55"/><circle cx="57.2" cy="802" r="1.55"/><circle cx="57.8" cy="803.19" r="1.55"/><circle cx="58.4" cy="801.93" r="1.55"/><circle cx="59" cy="803.13" r="1.55"/><circle cx="59.6" cy="802.48" r="1.55"/><circle cx="60.2" cy="803.66" r="1.55"/><circle cx="60.8" cy="801.7" r="1.55"/><circle cx="61.4" cy="802.58" r="1.55"/><circle cx="62" cy="802.63" r="1.55"/><circle cx="62.6" cy="804.71" r="1.55"/><circle cx="63.2" cy="802.97" r="1.55"/><circle cx="63.8" cy="800.68" r="1.55"/><circle cx="64.4" cy="800.48" r="1.55"/><circle cx="65" cy="802.28" r="1.55"/><circle cx="65.6" cy="801.74" r="1.55"/><circle cx="66.2" cy="801.04" r="1.55"/><circle cx="66.8" cy="801.5" r="1.55"/><circle cx="67.4" cy="803.54" r="1.55"/><circle cx="68" cy="799.62" r="1.55"/><circle cx="68.6" cy="802.77" r="1.55"/><circle cx="69.2" cy="801.94" r="1.55"/><circle cx="69.8" cy="804.7" r="1.55"/><circle cx="70.4" cy="799.69" r="1.55"/><circle cx="71" cy="803.02" r="1.55"/><circle cx="71.6" cy="802.04" r="1.55"/><circle cx="72.2" cy="802.52" r="1.55"/><circle cx="72.8" cy="803.05" r="1.55"/><circle cx="73.4" cy="805.33" r="1.55"/><circle cx="74" cy="802.96" r="1.55"/><circle cx="74.6" cy="803.15" r="1.55"/><circle cx="75.2" cy="800.19" r="1.55"/><circle cx="75.8" cy="803.31" r="1.55"/><circle cx="76.4" cy="800.27" r="1.55"/><circle cx="77" cy="802.11" r="1.55"/><circle cx="77.6" cy="802.99" r="1.55"/><circle cx="78.2" cy="804.47" r="1.55"/><circle cx="78.8" cy="803.82" r="1.55"/><circle cx="79.4" cy="802.66" r="1.55"/><circle cx="80" cy="803.61" r="1.55"/><circle cx="80.6" cy="801.97" r="1.55"/><circle cx="81.2" cy="802.41" r="1.55"/><circle cx="81.8" cy="802.2" r="1.55"/><circle cx="82.4" cy="803.55" r="1.55"/><circle cx="83" cy="801.91" r="1.55"/><circle cx="83.6" cy="800.74" r="1.55"/><circle cx="84.2" cy="800.45" r="1.55"/><circle cx="84.8" cy="805.95" r="1.55"/><circle cx="85.4" cy="799.09" r="1.55"/><circle cx="86" cy="802.14" r="1.55"/><circle cx="86.6" cy="801.9" r="1.55"/><circle cx="87.2" cy="801.92" r="1.55"/><circle cx="87.8" cy="800.71" r="1.55"/><circle cx="88.4" cy="803.05" r="1.55"/><circle cx="89" cy="802.34" r="1.55"/><circle cx="89.6" cy="800.64" r="1.55"/><circle cx="90.2" cy="801.49" r="1.55"/><circle cx="90.8" cy="800.08" r="1.55"/><circle cx="91.4" cy="802.57" r="1.55"/><circle cx="92" cy="804.91" r="1.55"/><circle cx="92.6" cy="804.14" r="1.55"/><circle cx="93.2" cy="803.06" r="1.55"/><circle cx="93.8" cy="801.25" r="1.55"/><circle cx="94.4" cy="800.99" r="1.55"/><circle cx="95" cy="801.37" r="1.55"/><circle cx="95.6" cy="802.73" r="1.55"/><circle cx="96.2" cy="799.79" r="1.55"/><circle cx="96.8" cy="799.07" r="1.55"/><circle cx="97.4" cy="796.62" r="1.55"/><circle cx="98" cy="797.93" r="1.55"/><circle cx="98.6" cy="797.41" r="1.55"/><circle cx="99.2" cy="795.41" r="1.55"/><circle cx="99.8" cy="794.16" r="1.55"/><circle cx="100.4" cy="794.92" r="1.55"/><circle cx="101" cy="794.69" r="1.55"/><circle cx="101.6" cy="792.19" r="1.55"/><circle cx="102.2" cy="793.66" r="1.55"/><circle cx="102.8" cy="791.08" r="1.55"/><circle cx="103.4" cy="791.08" r="1.55"/><circle cx="104" cy="791.85" r="1.55"/><circle cx="104.6" cy="787.39" r="1.55"/><circle cx="105.2" cy="786.71" r="1.55"/><circle cx="105.8" cy="784.58" r="1.55"/><circle cx="106.4" cy="782.55" r="1.55"/><circle cx="107" cy="781.39" r="1.55"/><circle cx="107.6" cy="775.86" r="1.55"/><circle cx="108.2" cy="775.92" r="1.55"/><circle cx="108.8" cy="770.04" r="1.55"/><circle cx="109.4" cy="767.76" r="1.55"/><circle cx="110" cy="766.27" r="1.55"/><circle cx="110.6" cy="758.31" r="1.55"/><circle cx="111.2" cy="758.78" r="1.55"/><circle cx="111.8" cy="755.14" r="1.55"/><circle cx="112.4" cy="749.42" r="1.55"/><circle cx="113" cy="744.1" r="1.55"/><circle cx="113.6" cy="738.5" r="1.55"/><circle cx="114.2" cy="733.39" r="1.55"/><circle cx="114.8" cy="732.55" r="1.55"/><circle cx="115.4" cy="723.17" r="1.55"/><circle cx="116" cy="720.57" r="1.55"/><circle cx="116.6" cy="717.61" r="1.55"/><circle cx="117.2" cy="712.5" r="1.55"/><circle cx="117.8" cy="708.33" r="1.55"/><circle cx="118.4" cy="708.17" r="1.55"/><circle cx="119" cy="705.76" r="1.55"/><circle cx="119.6" cy="701.57" r="1.55"/><circle cx="120.2" cy="702.52" r="1.55"/><circle cx="120.8" cy="702.03" r="1.55"/><circle cx="121.4" cy="703.19" r="1.55"/><circle cx="122" cy="705.48" r="1.55"/><circle cx="122.6" cy="707.59" r="1.55"/><circle cx="123.2" cy="706.52" r="1.55"/><circle cx="123.8" cy="711.15" r="1.55"/><circle cx="124.4" cy="713.41" r="1.55"/><circle cx="125" cy="715.43" r="1.55"/><circle cx="125.6" cy="722.98" r="1.55"/><circle cx="126.2" cy="725.45" r="1.55"/><circle cx="126.8" cy="730.25" r="1.55"/><circle cx="127.4" cy="732.02" r="1.55"/><circle cx="128" cy="740.73" r="1.55"/><circle cx="128.6" cy="744.75" r="1.55"/><circle cx="129.2" cy="750.39" r="1.55"/><circle cx="129.8" cy="753.16" r="1.55"/><circle cx="130.4" cy="760.78" r="1.55"/><circle cx="131" cy="763.23" r="1.55"/><circle cx="131.6" cy="766.03" r="1.55"/><circle cx="132.2" cy="771.32" r="1.55"/><circle cx="132.8" cy="775.26" r="1.55"/><circle cx="133.4" cy="776.69" r="1.55"/><circle cx="134" cy="782.39" r="1.55"/><circle cx="134.6" cy="784.22" r="1.55"/><circle cx="135.2" cy="787.2" r="1.55"/><circle cx="135.8" cy="789.88" r="1.55"/><circle cx="136.4" cy="794.31" r="1.55"/><circle cx="137" cy="791.96" r="1.55"/><circle cx="137.6" cy="792.89" r="1.55"/><circle cx="138.2" cy="795.71" r="1.55"/><circle cx="138.8" cy="796" r="1.55"/><circle cx="139.4" cy="793.75" r="1.55"/><circle cx="140" cy="801.1" r="1.55"/><circle cx="140.6" cy="799.38" r="1.55"/><circle cx="141.2" cy="796.65" r="1.55"/><circle cx="141.8" cy="798.58" r="1.55"/><circle cx="142.4" cy="800.27" r="1.55"/><circle cx="143" cy="799.6" r="1.55"/><circle cx="143.6" cy="799.68" r="1.55"/><circle cx="144.2" cy="800.8" r="1.55"/><circle cx="144.8" cy="801.98" r="1.55"/><circle cx="145.4" cy="802.06" r="1.55"/><circle cx="146" cy="800.83" r="1.55"/><circle cx="146.6" cy="801.1" r="1.55"/><circle cx="147.2" cy="798.06" r="1.55"/><circle cx="147.8" cy="798.12" r="1.55"/><circle cx="148.4" cy="800.31" r="1.55"/><circle cx="149" cy="799.37" r="1.55"/><circle cx="149.6" cy="800.35" r="1.55"/><circle cx="150.2" cy="798.86" r="1.55"/><circle cx="150.8" cy="799.37" r="1.55"/><circle cx="151.4" cy="800.36" r="1.55"/><circle cx="152" cy="797.27" r="1.55"/><circle cx="152.6" cy="799.06" r="1.55"/><circle cx="153.2" cy="802.03" r="1.55"/><circle cx="153.8" cy="801.32" r="1.55"/><circle cx="154.4" cy="799.85" r="1.55"/><circle cx="155" cy="802.05" r="1.55"/><circle cx="155.6" cy="804.43" r="1.55"/><circle cx="156.2" cy="804.09" r="1.55"/><circle cx="156.8" cy="800.38" r="1.55"/><circle cx="157.4" cy="801.49" r="1.55"/><circle cx="158" cy="799.66" r="1.55"/><circle cx="158.6" cy="801.84" r="1.55"/><circle cx="159.2" cy="800.94" r="1.55"/><circle cx="159.8" cy="801.86" r="1.55"/><circle cx="160.4" cy="803.71" r="1.55"/><circle cx="161" cy="802.89" r="1.55"/><circle cx="161.6" cy="802.95" r="1.55"/><circle cx="162.2" cy="801.12" r="1.55"/><circle cx="162.8" cy="805" r="1.55"/><circle cx="163.4" cy="803.21" r="1.55"/><circle cx="164" cy="801.62" r="1.55"/><circle cx="164.6" cy="803.89" r="1.55"/><circle cx="165.2" cy="805.66" r="1.55"/><circle cx="165.8" cy="801.92" r="1.55"/><circle cx="166.4" cy="804.76" r="1.55"/><circle cx="167" cy="802.21" r="1.55"/><circle cx="167.6" cy="805.6" r="1.55"/><circle cx="168.2" cy="805.31" r="1.55"/><circle cx="168.8" cy="804.04" r="1.55"/><circle cx="169.4" cy="802.99" r="1.55"/><circle cx="170" cy="802.35" r="1.55"/><circle cx="170.6" cy="803.3" r="1.55"/><circle cx="171.2" cy="806" r="1.55"/><circle cx="171.8" cy="805.33" r="1.55"/><circle cx="172.4" cy="804.9" r="1.55"/><circle cx="173" cy="804.14" r="1.55"/><circle cx="173.6" cy="804.88" r="1.55"/><circle cx="174.2" cy="805.97" r="1.55"/><circle cx="174.8" cy="801.57" r="1.55"/><circle cx="175.4" cy="804.62" r="1.55"/><circle cx="176" cy="805.32" r="1.55"/><circle cx="176.6" cy="803.67" r="1.55"/><circle cx="177.2" cy="804.6" r="1.55"/><circle cx="177.8" cy="805.16" r="1.55"/><circle cx="178.4" cy="803.73" r="1.55"/><circle cx="179" cy="803.72" r="1.55"/><circle cx="179.6" cy="803.39" r="1.55"/><circle cx="180.2" cy="804.12" r="1.55"/><circle cx="180.8" cy="805.58" r="1.55"/><circle cx="181.4" cy="806.89" r="1.55"/><circle cx="182" cy="805.55" r="1.55"/><circle cx="182.6" cy="805.31" r="1.55"/><circle cx="183.2" cy="804.53" r="1.55"/><circle cx="183.8" cy="806.11" r="1.55"/><circle cx="184.4" cy="805.28" r="1.55"/><circle cx="185" cy="807.64" r="1.55"/><circle cx="185.6" cy="806.05" r="1.55"/><circle cx="186.2" cy="807.44" r="1.55"/><circle cx="186.8" cy="806.74" r="1.55"/><circle cx="187.4" cy="806.13" r="1.55"/><circle cx="188" cy="806.54" r="1.55"/><circle cx="188.6" cy="804.98" r="1.55"/><circle cx="189.2" cy="807.3" r="1.55"/><circle cx="189.8" cy="806.06" r="1.55"/><circle cx="190.4" cy="805.17" r="1.55"/><circle cx="191" cy="806.52" r="1.55"/><circle cx="191.6" cy="807.82" r="1.55"/><circle cx="192.2" cy="806.53" r="1.55"/><circle cx="192.8" cy="802.99" r="1.55"/><circle cx="193.4" cy="805.72" r="1.55"/><circle cx="194" cy="806.69" r="1.55"/><circle cx="194.6" cy="807.43" r="1.55"/><circle cx="195.2" cy="805.46" r="1.55"/><circle cx="195.8" cy="807.22" r="1.55"/><circle cx="196.4" cy="807.89" r="1.55"/><circle cx="197" cy="807.6" r="1.55"/><circle cx="197.6" cy="804.29" r="1.55"/><circle cx="198.2" cy="806.02" r="1.55"/><circle cx="198.8" cy="805.92" r="1.55"/><circle cx="199.4" cy="806.25" r="1.55"/><circle cx="200" cy="806.93" r="1.55"/><circle cx="200.6" cy="808.76" r="1.55"/><circle cx="201.2" cy="806.91" r="1.55"/><circle cx="201.8" cy="805.28" r="1.55"/><circle cx="202.4" cy="804.86" r="1.55"/><circle cx="203" cy="807.79" r="1.55"/><circle cx="203.6" cy="805.36" r="1.55"/><circle cx="204.2" cy="806.39" r="1.55"/><circle cx="204.8" cy="808.83" r="1.55"/><circle cx="205.4" cy="808.97" r="1.55"/><circle cx="206" cy="808.91" r="1.55"/><circle cx="206.6" cy="804.8" r="1.55"/><circle cx="207.2" cy="809.12" r="1.55"/><circle cx="207.8" cy="806.42" r="1.55"/><circle cx="208.4" cy="808.07" r="1.55"/><circle cx="209" cy="806.43" r="1.55"/><circle cx="209.6" cy="808.1" r="1.55"/><circle cx="210.2" cy="806.4" r="1.55"/><circle cx="210.8" cy="806.4" r="1.55"/><circle cx="211.4" cy="806" r="1.55"/><circle cx="212" cy="804.89" r="1.55"/><circle cx="212.6" cy="806.15" r="1.55"/><circle cx="213.2" cy="807.41" r="1.55"/><circle cx="213.8" cy="804.31" r="1.55"/><circle cx="214.4" cy="806.15" r="1.55"/><circle cx="215" cy="804.35" r="1.55"/><circle cx="215.6" cy="804.03" r="1.55"/><circle cx="216.2" cy="803.37" r="1.55"/><circle cx="216.8" cy="808.49" r="1.55"/><circle cx="217.4" cy="805.97" r="1.55"/><circle cx="218" cy="805.14" r="1.55"/><circle cx="218.6" cy="807.15" r="1.55"/><circle cx="219.2" cy="802.39" r="1.55"/><circle cx="219.8" cy="805.58" r="1.55"/><circle cx="220.4" cy="804.38" r="1.55"/><circle cx="221" cy="806.15" r="1.55"/><circle cx="221.6" cy="802.87" r="1.55"/><circle cx="222.2" cy="804.89" r="1.55"/><circle cx="222.8" cy="804.47" r="1.55"/><circle cx="223.4" cy="806.48" r="1.55"/><circle cx="224" cy="803.35" r="1.55"/><circle cx="224.6" cy="803.84" r="1.55"/><circle cx="225.2" cy="804.39" r="1.55"/><circle cx="225.8" cy="804.17" r="1.55"/><circle cx="226.4" cy="804.16" r="1.55"/><circle cx="227" cy="803.29" r="1.55"/><circle cx="227.6" cy="801.39" r="1.55"/><circle cx="228.2" cy="804.64" r="1.55"/><circle cx="228.8" cy="805.28" r="1.55"/><circle cx="229.4" cy="802.5" r="1.55"/><circle cx="230" cy="801.11" r="1.55"/><circle cx="230.6" cy="803.55" r="1.55"/><circle cx="231.2" cy="800.26" r="1.55"/><circle cx="231.8" cy="801.91" r="1.55"/><circle cx="232.4" cy="799.05" r="1.55"/></g>
<path d="M75.1,802.4 L75.1,802.29 L76.11,802.28 L77.13,802.28 L78.14,802.27 L79.15,802.27 L80.17,802.26 L81.18,802.25 L82.19,802.25 L83.21,802.24 L84.22,802.23 L85.23,802.22 L86.25,802.21 L87.26,802.2 L88.27,802.18 L89.29,802.16 L90.3,802.13 L91.31,802.09 L92.33,802.04 L93.34,801.96 L94.35,801.86 L95.37,801.7 L96.38,801.47 L97.39,801.14 L98.41,800.68 L99.42,800.04 L100.43,799.17 L101.45,797.98 L102.46,796.42 L103.47,794.39 L104.49,791.82 L105.5,788.61 L106.51,784.7 L107.53,780.04 L108.54,774.6 L109.55,768.41 L110.57,761.54 L111.58,754.1 L112.59,746.29 L113.61,738.32 L114.62,730.49 L115.63,723.1 L116.65,716.46 L117.66,710.91 L118.67,706.71 L119.69,704.09 L120.7,703.2 L121.71,704.09 L122.73,706.71 L123.74,710.91 L124.75,716.46 L125.77,723.1 L126.78,730.49 L127.79,738.32 L128.81,746.29 L129.82,754.1 L130.83,761.54 L131.85,768.41 L132.86,774.6 L133.87,780.04 L134.89,784.7 L135.9,788.61 L136.91,791.82 L137.93,794.39 L138.94,796.42 L139.95,797.98 L140.97,799.17 L141.98,800.04 L142.99,800.68 L144.01,801.14 L145.02,801.47 L146.03,801.7 L147.05,801.86 L148.06,801.96 L149.07,802.04 L150.09,802.09 L151.1,802.13 L152.11,802.16 L153.13,802.18 L154.14,802.2 L155.15,802.21 L156.17,802.22 L157.18,802.23 L158.19,802.24 L159.21,802.25 L160.22,802.25 L161.23,802.26 L162.25,802.27 L163.26,802.27 L164.27,802.28 L165.29,802.28 L166.3,802.29 L166.3,802.4 Z" fill="url(#gY)"/>
<path d="M91.31,802.09 L92.33,802.04 L93.34,801.96 L94.35,801.86 L95.37,801.7 L96.38,801.47 L97.39,801.14 L98.41,800.68 L99.42,800.04 L100.43,799.17 L101.45,797.98 L102.46,796.42 L103.47,794.39 L104.49,791.82 L105.5,788.61 L106.51,784.7 L107.53,780.04 L108.54,774.6 L109.55,768.41 L110.57,761.54 L111.58,754.1 L112.59,746.29 L113.61,738.32 L114.62,730.49 L115.63,723.1 L116.65,716.46 L117.66,710.91 L118.67,706.71 L119.69,704.09 L120.7,703.2 L121.71,704.09 L122.73,706.71 L123.74,710.91 L124.75,716.46 L125.77,723.1 L126.78,730.49 L127.79,738.32 L128.81,746.29 L129.82,754.1 L130.83,761.54 L131.85,768.41 L132.86,774.6 L133.87,780.04 L134.89,784.7 L135.9,788.61 L136.91,791.82 L137.93,794.39 L138.94,796.42 L139.95,797.98 L140.97,799.17 L141.98,800.04 L142.99,800.68 L144.01,801.14 L145.02,801.47 L146.03,801.7 L147.05,801.86 L148.06,801.96 L149.07,802.04 L150.09,802.09" fill="none" stroke="#e83a3a" stroke-width="1.05"/>
<path d="M87.1,802.4 L87.1,802.39 L87.42,802.39 L87.74,802.39 L88.06,802.38 L88.38,802.38 L88.7,802.37 L89.02,802.37 L89.34,802.36 L89.66,802.34 L89.98,802.33 L90.3,802.31 L90.62,802.29 L90.94,802.26 L91.26,802.23 L91.58,802.19 L91.9,802.15 L92.22,802.09 L92.54,802.03 L92.86,801.96 L93.18,801.88 L93.5,801.79 L93.82,801.69 L94.14,801.57 L94.46,801.44 L94.78,801.3 L95.1,801.15 L95.42,800.98 L95.74,800.8 L96.06,800.62 L96.38,800.42 L96.7,800.21 L97.02,800 L97.34,799.78 L97.66,799.56 L97.98,799.34 L98.3,799.13 L98.62,798.93 L98.94,798.73 L99.26,798.55 L99.58,798.39 L99.9,798.25 L100.22,798.12 L100.54,798.03 L100.86,797.96 L101.18,797.91 L101.5,797.9 L101.82,797.91 L102.14,797.96 L102.46,798.03 L102.78,798.12 L103.1,798.25 L103.42,798.39 L103.74,798.55 L104.06,798.73 L104.38,798.93 L104.7,799.13 L105.02,799.34 L105.34,799.56 L105.66,799.78 L105.98,800 L106.3,800.21 L106.62,800.42 L106.94,800.62 L107.26,800.8 L107.58,800.98 L107.9,801.15 L108.22,801.3 L108.54,801.44 L108.86,801.57 L109.18,801.69 L109.5,801.79 L109.82,801.88 L110.14,801.96 L110.46,802.03 L110.78,802.09 L111.1,802.15 L111.42,802.19 L111.74,802.23 L112.06,802.26 L112.38,802.29 L112.7,802.31 L113.02,802.33 L113.34,802.34 L113.66,802.36 L113.98,802.37 L114.3,802.37 L114.62,802.38 L114.94,802.38 L115.26,802.39 L115.58,802.39 L115.9,802.39 L115.9,802.4 Z" fill="url(#gP)"/>
<path d="M92.22,802.09 L92.54,802.03 L92.86,801.96 L93.18,801.88 L93.5,801.79 L93.82,801.69 L94.14,801.57 L94.46,801.44 L94.78,801.3 L95.1,801.15 L95.42,800.98 L95.74,800.8 L96.06,800.62 L96.38,800.42 L96.7,800.21 L97.02,800 L97.34,799.78 L97.66,799.56 L97.98,799.34 L98.3,799.13 L98.62,798.93 L98.94,798.73 L99.26,798.55 L99.58,798.39 L99.9,798.25 L100.22,798.12 L100.54,798.03 L100.86,797.96 L101.18,797.91 L101.5,797.9 L101.82,797.91 L102.14,797.96 L102.46,798.03 L102.78,798.12 L103.1,798.25 L103.42,798.39 L103.74,798.55 L104.06,798.73 L104.38,798.93 L104.7,799.13 L105.02,799.34 L105.34,799.56 L105.66,799.78 L105.98,800 L106.3,800.21 L106.62,800.42 L106.94,800.62 L107.26,800.8 L107.58,800.98 L107.9,801.15 L108.22,801.3 L108.54,801.44 L108.86,801.57 L109.18,801.69 L109.5,801.79 L109.82,801.88 L110.14,801.96 L110.46,802.03 L110.78,802.09" fill="none" stroke="#38e038" stroke-width="1.05"/>
<line x1="92" y1="802.4" x2="142.3" y2="802.4" stroke="#40e040" stroke-width="1.1"/>
<path d="M56.6,802.34 L57.2,802.34 L57.8,802.34 L58.4,802.34 L59,802.34 L59.6,802.34 L60.2,802.34 L60.8,802.34 L61.4,802.33 L62,802.33 L62.6,802.33 L63.2,802.33 L63.8,802.33 L64.4,802.33 L65,802.33 L65.6,802.32 L66.2,802.32 L66.8,802.32 L67.4,802.32 L68,802.32 L68.6,802.31 L69.2,802.31 L69.8,802.31 L70.4,802.31 L71,802.31 L71.6,802.3 L72.2,802.3 L72.8,802.3 L73.4,802.3 L74,802.29 L74.6,802.29 L75.2,802.29 L75.8,802.29 L76.4,802.28 L77,802.28 L77.6,802.28 L78.2,802.27 L78.8,802.27 L79.4,802.27 L80,802.26 L80.6,802.26 L81.2,802.25 L81.8,802.25 L82.4,802.25 L83,802.24 L83.6,802.24 L84.2,802.23 L84.8,802.22 L85.4,802.22 L86,802.21 L86.6,802.2 L87.2,802.19 L87.8,802.17 L88.4,802.16 L89,802.13 L89.6,802.1 L90.2,802.05 L90.8,801.99 L91.4,801.9 L92,801.79 L92.6,801.64 L93.2,801.45 L93.8,801.21 L94.4,800.92 L95,800.56 L95.6,800.14 L96.2,799.65 L96.8,799.09 L97.4,798.48 L98,797.82 L98.6,797.12 L99.2,796.39 L99.8,795.63 L100.4,794.87 L101,794.08 L101.6,793.28 L102.2,792.43 L102.8,791.53 L103.4,790.54 L104,789.43 L104.6,788.16 L105.2,786.7 L105.8,785 L106.4,783.05 L107,780.81 L107.6,778.26 L108.2,775.4 L108.8,772.23 L109.4,768.75 L110,764.99 L110.6,760.96 L111.2,756.71 L111.8,752.27 L112.4,747.69 L113,743.02 L113.6,738.33 L114.2,733.67 L114.8,729.12 L115.4,724.73 L116,720.59 L116.6,716.74 L117.2,713.27 L117.8,710.24 L118.4,707.69 L119,705.68 L119.6,704.25 L120.2,703.42 L120.8,703.21 L121.4,703.63 L122,704.66 L122.6,706.29 L123.2,708.48 L123.8,711.2 L124.4,714.39 L125,717.99 L125.6,721.94 L126.2,726.18 L126.8,730.64 L127.4,735.25 L128,739.95 L128.6,744.67 L129.2,749.35 L129.8,753.95 L130.4,758.42 L131,762.71 L131.6,766.8 L132.2,770.65 L132.8,774.25 L133.4,777.59 L134,780.66 L134.6,783.46 L135.2,785.99 L135.8,788.26 L136.4,790.28 L137,792.06 L137.6,793.63 L138.2,794.99 L138.8,796.17 L139.4,797.18 L140,798.05 L140.6,798.78 L141.2,799.39 L141.8,799.91 L142.4,800.33 L143,800.69 L143.6,800.98 L144.2,801.22 L144.8,801.41 L145.4,801.57 L146,801.69 L146.6,801.79 L147.2,801.88 L147.8,801.94 L148.4,801.99 L149,802.04 L149.6,802.07 L150.2,802.1 L150.8,802.12 L151.4,802.14 L152,802.16 L152.6,802.17 L153.2,802.18 L153.8,802.19 L154.4,802.2 L155,802.21 L155.6,802.21 L156.2,802.22 L156.8,802.23 L157.4,802.23 L158,802.24 L158.6,802.24 L159.2,802.25 L159.8,802.25 L160.4,802.26 L161,802.26 L161.6,802.26 L162.2,802.27 L162.8,802.27 L163.4,802.27 L164,802.28 L164.6,802.28 L165.2,802.28 L165.8,802.29 L166.4,802.29 L167,802.29 L167.6,802.3 L168.2,802.3 L168.8,802.3 L169.4,802.3 L170,802.31 L170.6,802.31 L171.2,802.31 L171.8,802.31 L172.4,802.31 L173,802.32 L173.6,802.32 L174.2,802.32 L174.8,802.32 L175.4,802.32 L176,802.32 L176.6,802.33 L177.2,802.33 L177.8,802.33 L178.4,802.33 L179,802.33 L179.6,802.33 L180.2,802.33 L180.8,802.34 L181.4,802.34" fill="none" stroke="#3a3ae8" stroke-width="1.05"/>
<rect x="22.3" y="656.6" width="210.8" height="170.1" fill="none" stroke="#606060" stroke-width="1.25"/>
<line x1="233.1" y1="826.7" x2="233.1" y2="828.6" stroke="#606060" stroke-width="1.1"/>
<line x1="221.41" y1="826.7" x2="221.41" y2="830.3" stroke="#606060" stroke-width="1.1"/>
<text x="221.41" y="839" font-size="9" text-anchor="middle">276</text>
<line x1="209.72" y1="826.7" x2="209.72" y2="828.6" stroke="#606060" stroke-width="1.1"/>
<line x1="198.03" y1="826.7" x2="198.03" y2="830.3" stroke="#606060" stroke-width="1.1"/>
<text x="198.03" y="839" font-size="9" text-anchor="middle">278</text>
<line x1="186.33" y1="826.7" x2="186.33" y2="828.6" stroke="#606060" stroke-width="1.1"/>
<line x1="174.64" y1="826.7" x2="174.64" y2="830.3" stroke="#606060" stroke-width="1.1"/>
<text x="174.64" y="839" font-size="9" text-anchor="middle">280</text>
<line x1="162.95" y1="826.7" x2="162.95" y2="828.6" stroke="#606060" stroke-width="1.1"/>
<line x1="151.26" y1="826.7" x2="151.26" y2="830.3" stroke="#606060" stroke-width="1.1"/>
<text x="151.26" y="839" font-size="9" text-anchor="middle">282</text>
<line x1="139.57" y1="826.7" x2="139.57" y2="828.6" stroke="#606060" stroke-width="1.1"/>
<line x1="127.88" y1="826.7" x2="127.88" y2="830.3" stroke="#606060" stroke-width="1.1"/>
<text x="127.88" y="839" font-size="9" text-anchor="middle">284</text>
<line x1="116.18" y1="826.7" x2="116.18" y2="828.6" stroke="#606060" stroke-width="1.1"/>
<line x1="104.49" y1="826.7" x2="104.49" y2="830.3" stroke="#606060" stroke-width="1.1"/>
<text x="104.49" y="839" font-size="9" text-anchor="middle">286</text>
<line x1="92.8" y1="826.7" x2="92.8" y2="828.6" stroke="#606060" stroke-width="1.1"/>
<line x1="81.11" y1="826.7" x2="81.11" y2="830.3" stroke="#606060" stroke-width="1.1"/>
<text x="81.11" y="839" font-size="9" text-anchor="middle">288</text>
<line x1="69.42" y1="826.7" x2="69.42" y2="828.6" stroke="#606060" stroke-width="1.1"/>
<line x1="57.73" y1="826.7" x2="57.73" y2="830.3" stroke="#606060" stroke-width="1.1"/>
<text x="57.73" y="839" font-size="9" text-anchor="middle">290</text>
<line x1="46.03" y1="826.7" x2="46.03" y2="828.6" stroke="#606060" stroke-width="1.1"/>
<line x1="34.34" y1="826.7" x2="34.34" y2="830.3" stroke="#606060" stroke-width="1.1"/>
<text x="34.34" y="839" font-size="9" text-anchor="middle">292</text>
<line x1="22.65" y1="826.7" x2="22.65" y2="828.6" stroke="#606060" stroke-width="1.1"/>
<text x="127.7" y="855" font-size="10.4" text-anchor="middle">Binding Energy (ev)</text>
<text transform="translate(8.9,738) rotate(-90)" font-size="10.6" text-anchor="middle">Intensity (a.u.)</text>
<text x="227.2" y="673.4" font-size="10.4" text-anchor="end">C 1s</text>
<text x="112.6" y="689.3" font-size="8.8">C-C</text>
<text x="75.5" y="762.2" font-size="8.8">C-O</text>
<line x1="99.8" y1="796.6" x2="88.8" y2="766.6" stroke="#111" stroke-width="0.8" marker-end="url(#ah)"/>
<g fill="none" stroke="#a8a8a8" stroke-width="0.65"><circle cx="307.2" cy="782.36" r="1.5"/><circle cx="307.62" cy="758.9" r="1.5"/><circle cx="308.04" cy="772.62" r="1.5"/><circle cx="308.46" cy="763.98" r="1.5"/><circle cx="308.88" cy="765.25" r="1.5"/><circle cx="309.3" cy="758.46" r="1.5"/><circle cx="309.72" cy="768.92" r="1.5"/><circle cx="310.14" cy="759.28" r="1.5"/><circle cx="310.56" cy="778.47" r="1.5"/><circle cx="310.98" cy="761.43" r="1.5"/><circle cx="311.4" cy="768.96" r="1.5"/><circle cx="311.82" cy="776.54" r="1.5"/><circle cx="312.24" cy="776.76" r="1.5"/><circle cx="312.66" cy="778.21" r="1.5"/><circle cx="313.08" cy="779.69" r="1.5"/><circle cx="313.5" cy="773.61" r="1.5"/><circle cx="313.92" cy="776.62" r="1.5"/><circle cx="314.34" cy="778.56" r="1.5"/><circle cx="314.76" cy="758.07" r="1.5"/><circle cx="315.18" cy="770.07" r="1.5"/><circle cx="315.6" cy="770.69" r="1.5"/><circle cx="316.02" cy="769.18" r="1.5"/><circle cx="316.44" cy="775.81" r="1.5"/><circle cx="316.86" cy="761.1" r="1.5"/><circle cx="317.28" cy="757.14" r="1.5"/><circle cx="317.7" cy="764.78" r="1.5"/><circle cx="318.12" cy="775.16" r="1.5"/><circle cx="318.54" cy="762.48" r="1.5"/><circle cx="318.96" cy="749.19" r="1.5"/><circle cx="319.38" cy="782.11" r="1.5"/><circle cx="319.8" cy="782.39" r="1.5"/><circle cx="320.22" cy="776.56" r="1.5"/><circle cx="320.64" cy="768.93" r="1.5"/><circle cx="321.06" cy="768.74" r="1.5"/><circle cx="321.48" cy="759.4" r="1.5"/><circle cx="321.9" cy="761.39" r="1.5"/><circle cx="322.32" cy="778.32" r="1.5"/><circle cx="322.74" cy="767.07" r="1.5"/><circle cx="323.16" cy="781.94" r="1.5"/><circle cx="323.58" cy="769.4" r="1.5"/><circle cx="324" cy="750.55" r="1.5"/><circle cx="324.42" cy="772.72" r="1.5"/><circle cx="324.84" cy="785.59" r="1.5"/><circle cx="325.26" cy="774.05" r="1.5"/><circle cx="325.68" cy="764.79" r="1.5"/><circle cx="326.1" cy="764.81" r="1.5"/><circle cx="326.52" cy="776.82" r="1.5"/><circle cx="326.94" cy="764.08" r="1.5"/><circle cx="327.36" cy="759.59" r="1.5"/><circle cx="327.78" cy="772.93" r="1.5"/><circle cx="328.2" cy="772.14" r="1.5"/><circle cx="328.62" cy="765.24" r="1.5"/><circle cx="329.04" cy="763" r="1.5"/><circle cx="329.46" cy="776.5" r="1.5"/><circle cx="329.88" cy="756.21" r="1.5"/><circle cx="330.3" cy="767.48" r="1.5"/><circle cx="330.72" cy="769.08" r="1.5"/><circle cx="331.14" cy="791.41" r="1.5"/><circle cx="331.56" cy="765.41" r="1.5"/><circle cx="331.98" cy="781.48" r="1.5"/><circle cx="332.4" cy="773.97" r="1.5"/><circle cx="332.82" cy="787.1" r="1.5"/><circle cx="333.24" cy="790.02" r="1.5"/><circle cx="333.66" cy="774.59" r="1.5"/><circle cx="334.08" cy="779.4" r="1.5"/><circle cx="334.5" cy="769.38" r="1.5"/><circle cx="334.92" cy="774.74" r="1.5"/><circle cx="335.34" cy="785.75" r="1.5"/><circle cx="335.76" cy="767.32" r="1.5"/><circle cx="336.18" cy="772.31" r="1.5"/><circle cx="336.6" cy="780.28" r="1.5"/><circle cx="337.02" cy="777.47" r="1.5"/><circle cx="337.44" cy="777.16" r="1.5"/><circle cx="337.86" cy="761.47" r="1.5"/><circle cx="338.28" cy="778.47" r="1.5"/><circle cx="338.7" cy="780.95" r="1.5"/><circle cx="339.12" cy="781.89" r="1.5"/><circle cx="339.54" cy="783.65" r="1.5"/><circle cx="339.96" cy="790.96" r="1.5"/><circle cx="340.38" cy="803.4" r="1.5"/><circle cx="340.8" cy="773.1" r="1.5"/><circle cx="341.22" cy="775.54" r="1.5"/><circle cx="341.64" cy="789.8" r="1.5"/><circle cx="342.06" cy="764.9" r="1.5"/><circle cx="342.48" cy="775.16" r="1.5"/><circle cx="342.9" cy="776.8" r="1.5"/><circle cx="343.32" cy="775.14" r="1.5"/><circle cx="343.74" cy="775" r="1.5"/><circle cx="344.16" cy="773.77" r="1.5"/><circle cx="344.58" cy="777.5" r="1.5"/><circle cx="345" cy="789.06" r="1.5"/><circle cx="345.42" cy="799.56" r="1.5"/><circle cx="345.84" cy="770.4" r="1.5"/><circle cx="346.26" cy="790.26" r="1.5"/><circle cx="346.68" cy="790.97" r="1.5"/><circle cx="347.1" cy="789.81" r="1.5"/><circle cx="347.52" cy="802.28" r="1.5"/><circle cx="347.94" cy="790.2" r="1.5"/><circle cx="348.36" cy="798.41" r="1.5"/><circle cx="348.78" cy="779.48" r="1.5"/><circle cx="349.2" cy="774.7" r="1.5"/><circle cx="349.62" cy="799.76" r="1.5"/><circle cx="350.04" cy="789.67" r="1.5"/><circle cx="350.46" cy="775.09" r="1.5"/><circle cx="350.88" cy="786.67" r="1.5"/><circle cx="351.3" cy="795.21" r="1.5"/><circle cx="351.72" cy="779.93" r="1.5"/><circle cx="352.14" cy="791.28" r="1.5"/><circle cx="352.56" cy="775.11" r="1.5"/><circle cx="352.98" cy="793.28" r="1.5"/><circle cx="353.4" cy="790.55" r="1.5"/><circle cx="353.82" cy="786.44" r="1.5"/><circle cx="354.24" cy="785.37" r="1.5"/><circle cx="354.66" cy="786.81" r="1.5"/><circle cx="355.08" cy="800.72" r="1.5"/><circle cx="355.5" cy="799.87" r="1.5"/><circle cx="355.92" cy="769.25" r="1.5"/><circle cx="356.34" cy="778.59" r="1.5"/><circle cx="356.76" cy="786.87" r="1.5"/><circle cx="357.18" cy="789" r="1.5"/><circle cx="357.6" cy="778.91" r="1.5"/><circle cx="358.02" cy="796.94" r="1.5"/><circle cx="358.44" cy="813.44" r="1.5"/><circle cx="358.86" cy="778.66" r="1.5"/><circle cx="359.28" cy="779.26" r="1.5"/><circle cx="359.7" cy="790.54" r="1.5"/><circle cx="360.12" cy="800.02" r="1.5"/><circle cx="360.54" cy="797.14" r="1.5"/><circle cx="360.96" cy="790.14" r="1.5"/><circle cx="361.38" cy="794.05" r="1.5"/><circle cx="361.8" cy="789.58" r="1.5"/><circle cx="362.22" cy="788.64" r="1.5"/><circle cx="362.64" cy="786.48" r="1.5"/><circle cx="363.06" cy="783.91" r="1.5"/><circle cx="363.48" cy="792.22" r="1.5"/><circle cx="363.9" cy="787.27" r="1.5"/><circle cx="364.32" cy="791.43" r="1.5"/><circle cx="364.74" cy="784.27" r="1.5"/><circle cx="365.16" cy="802.86" r="1.5"/><circle cx="365.58" cy="789.39" r="1.5"/><circle cx="366" cy="788.35" r="1.5"/><circle cx="366.42" cy="802.93" r="1.5"/><circle cx="366.84" cy="788.56" r="1.5"/><circle cx="367.26" cy="790.1" r="1.5"/><circle cx="367.68" cy="789.44" r="1.5"/><circle cx="368.1" cy="772.22" r="1.5"/><circle cx="368.52" cy="796.43" r="1.5"/><circle cx="368.94" cy="774.75" r="1.5"/><circle cx="369.36" cy="798.3" r="1.5"/><circle cx="369.78" cy="793.41" r="1.5"/><circle cx="370.2" cy="783.88" r="1.5"/><circle cx="370.62" cy="776.23" r="1.5"/><circle cx="371.04" cy="792.97" r="1.5"/><circle cx="371.46" cy="783.24" r="1.5"/><circle cx="371.88" cy="800.85" r="1.5"/><circle cx="372.3" cy="782.67" r="1.5"/><circle cx="372.72" cy="787.55" r="1.5"/><circle cx="373.14" cy="785.93" r="1.5"/><circle cx="373.56" cy="775.48" r="1.5"/><circle cx="373.98" cy="771.39" r="1.5"/><circle cx="374.4" cy="792.69" r="1.5"/><circle cx="374.82" cy="789.33" r="1.5"/><circle cx="375.24" cy="784.55" r="1.5"/><circle cx="375.66" cy="779.51" r="1.5"/><circle cx="376.08" cy="792.12" r="1.5"/><circle cx="376.5" cy="776.57" r="1.5"/><circle cx="376.92" cy="793.33" r="1.5"/><circle cx="377.34" cy="788.1" r="1.5"/><circle cx="377.76" cy="775.56" r="1.5"/><circle cx="378.18" cy="779.92" r="1.5"/><circle cx="378.6" cy="782.09" r="1.5"/><circle cx="379.02" cy="779.58" r="1.5"/><circle cx="379.44" cy="786.89" r="1.5"/><circle cx="379.86" cy="775.5" r="1.5"/><circle cx="380.28" cy="775.93" r="1.5"/><circle cx="380.7" cy="773.63" r="1.5"/><circle cx="381.12" cy="776.1" r="1.5"/><circle cx="381.54" cy="788.95" r="1.5"/><circle cx="381.96" cy="789.55" r="1.5"/><circle cx="382.38" cy="762.16" r="1.5"/><circle cx="382.8" cy="787.15" r="1.5"/><circle cx="383.22" cy="772.55" r="1.5"/><circle cx="383.64" cy="783.7" r="1.5"/><circle cx="384.06" cy="787.87" r="1.5"/><circle cx="384.48" cy="799.26" r="1.5"/><circle cx="384.9" cy="782.24" r="1.5"/><circle cx="385.32" cy="788.62" r="1.5"/><circle cx="385.74" cy="777.04" r="1.5"/><circle cx="386.16" cy="763.91" r="1.5"/><circle cx="386.58" cy="768.21" r="1.5"/><circle cx="387" cy="790.44" r="1.5"/><circle cx="387.42" cy="772.61" r="1.5"/><circle cx="387.84" cy="779.82" r="1.5"/><circle cx="388.26" cy="792.28" r="1.5"/><circle cx="388.68" cy="789.25" r="1.5"/><circle cx="389.1" cy="775.35" r="1.5"/><circle cx="389.52" cy="775.08" r="1.5"/><circle cx="389.94" cy="767.03" r="1.5"/><circle cx="390.36" cy="790.92" r="1.5"/><circle cx="390.78" cy="764.8" r="1.5"/><circle cx="391.2" cy="772.89" r="1.5"/><circle cx="391.62" cy="770.93" r="1.5"/><circle cx="392.04" cy="766.61" r="1.5"/><circle cx="392.46" cy="774.06" r="1.5"/><circle cx="392.88" cy="745.57" r="1.5"/><circle cx="393.3" cy="747.59" r="1.5"/><circle cx="393.72" cy="754.66" r="1.5"/><circle cx="394.14" cy="746.47" r="1.5"/><circle cx="394.56" cy="752.65" r="1.5"/><circle cx="394.98" cy="724.67" r="1.5"/><circle cx="395.4" cy="743.9" r="1.5"/><circle cx="395.82" cy="722.57" r="1.5"/><circle cx="396.24" cy="725.49" r="1.5"/><circle cx="396.66" cy="743.6" r="1.5"/><circle cx="397.08" cy="727.92" r="1.5"/><circle cx="397.5" cy="707.6" r="1.5"/><circle cx="397.92" cy="727.62" r="1.5"/><circle cx="398.34" cy="715.33" r="1.5"/><circle cx="398.76" cy="730.76" r="1.5"/><circle cx="399.18" cy="727.81" r="1.5"/><circle cx="399.6" cy="725.52" r="1.5"/><circle cx="400.02" cy="720.23" r="1.5"/><circle cx="400.44" cy="729.48" r="1.5"/><circle cx="400.86" cy="711.06" r="1.5"/><circle cx="401.28" cy="738.33" r="1.5"/><circle cx="401.7" cy="754.16" r="1.5"/><circle cx="402.12" cy="740.91" r="1.5"/><circle cx="402.54" cy="740.39" r="1.5"/><circle cx="402.96" cy="756.18" r="1.5"/><circle cx="403.38" cy="765.36" r="1.5"/><circle cx="403.8" cy="762.35" r="1.5"/><circle cx="404.22" cy="749.01" r="1.5"/><circle cx="404.64" cy="765.18" r="1.5"/><circle cx="405.06" cy="773.09" r="1.5"/><circle cx="405.48" cy="780.36" r="1.5"/><circle cx="405.9" cy="761.62" r="1.5"/><circle cx="406.32" cy="780.22" r="1.5"/><circle cx="406.74" cy="792.94" r="1.5"/><circle cx="407.16" cy="797.63" r="1.5"/><circle cx="407.58" cy="771.06" r="1.5"/><circle cx="408" cy="773.17" r="1.5"/><circle cx="408.42" cy="783.12" r="1.5"/><circle cx="408.84" cy="779.96" r="1.5"/><circle cx="409.26" cy="782.33" r="1.5"/><circle cx="409.68" cy="788.06" r="1.5"/><circle cx="410.1" cy="791.79" r="1.5"/><circle cx="410.52" cy="783.64" r="1.5"/><circle cx="410.94" cy="777.91" r="1.5"/><circle cx="411.36" cy="777.74" r="1.5"/><circle cx="411.78" cy="782.87" r="1.5"/><circle cx="412.2" cy="781.34" r="1.5"/><circle cx="412.62" cy="786.15" r="1.5"/><circle cx="413.04" cy="818" r="1.5"/><circle cx="413.46" cy="795.75" r="1.5"/><circle cx="413.88" cy="783.59" r="1.5"/><circle cx="414.3" cy="789.94" r="1.5"/><circle cx="414.72" cy="775.5" r="1.5"/><circle cx="415.14" cy="774.32" r="1.5"/><circle cx="415.56" cy="793.8" r="1.5"/><circle cx="415.98" cy="797.28" r="1.5"/><circle cx="416.4" cy="780.11" r="1.5"/><circle cx="416.82" cy="796.01" r="1.5"/><circle cx="417.24" cy="788.85" r="1.5"/><circle cx="417.66" cy="786.57" r="1.5"/><circle cx="418.08" cy="805.08" r="1.5"/><circle cx="418.5" cy="784.68" r="1.5"/><circle cx="418.92" cy="773.26" r="1.5"/><circle cx="419.34" cy="786.16" r="1.5"/><circle cx="419.76" cy="783.38" r="1.5"/><circle cx="420.18" cy="800.39" r="1.5"/><circle cx="420.6" cy="762.55" r="1.5"/><circle cx="421.02" cy="792.39" r="1.5"/><circle cx="421.44" cy="782.71" r="1.5"/><circle cx="421.86" cy="761.83" r="1.5"/><circle cx="422.28" cy="784.53" r="1.5"/><circle cx="422.7" cy="773.62" r="1.5"/><circle cx="423.12" cy="778.92" r="1.5"/><circle cx="423.54" cy="771.29" r="1.5"/><circle cx="423.96" cy="768.1" r="1.5"/><circle cx="424.38" cy="766.24" r="1.5"/><circle cx="424.8" cy="769.93" r="1.5"/><circle cx="425.22" cy="757.6" r="1.5"/><circle cx="425.64" cy="756" r="1.5"/><circle cx="426.06" cy="735.79" r="1.5"/><circle cx="426.48" cy="757.53" r="1.5"/><circle cx="426.9" cy="725.24" r="1.5"/><circle cx="427.32" cy="737.96" r="1.5"/><circle cx="427.74" cy="725.37" r="1.5"/><circle cx="428.16" cy="710.82" r="1.5"/><circle cx="428.58" cy="712.17" r="1.5"/><circle cx="429" cy="711.41" r="1.5"/><circle cx="429.42" cy="698.06" r="1.5"/><circle cx="429.84" cy="683.69" r="1.5"/><circle cx="430.26" cy="687.87" r="1.5"/><circle cx="430.68" cy="704.74" r="1.5"/><circle cx="431.1" cy="686.13" r="1.5"/><circle cx="431.52" cy="681.63" r="1.5"/><circle cx="431.94" cy="696.93" r="1.5"/><circle cx="432.36" cy="705.43" r="1.5"/><circle cx="432.78" cy="715.57" r="1.5"/><circle cx="433.2" cy="704.86" r="1.5"/><circle cx="433.62" cy="701.91" r="1.5"/><circle cx="434.04" cy="714.07" r="1.5"/><circle cx="434.46" cy="713.93" r="1.5"/><circle cx="434.88" cy="705.46" r="1.5"/><circle cx="435.3" cy="739.92" r="1.5"/><circle cx="435.72" cy="744.27" r="1.5"/><circle cx="436.14" cy="724.93" r="1.5"/><circle cx="436.56" cy="756.79" r="1.5"/><circle cx="436.98" cy="751.13" r="1.5"/><circle cx="437.4" cy="747.97" r="1.5"/><circle cx="437.82" cy="742.93" r="1.5"/><circle cx="438.24" cy="763.78" r="1.5"/><circle cx="438.66" cy="764.24" r="1.5"/><circle cx="439.08" cy="777.84" r="1.5"/><circle cx="439.5" cy="783.74" r="1.5"/><circle cx="439.92" cy="787.11" r="1.5"/><circle cx="440.34" cy="770.86" r="1.5"/><circle cx="440.76" cy="774.29" r="1.5"/><circle cx="441.18" cy="791.88" r="1.5"/><circle cx="441.6" cy="781.33" r="1.5"/><circle cx="442.02" cy="777.73" r="1.5"/><circle cx="442.44" cy="779.82" r="1.5"/><circle cx="442.86" cy="790.36" r="1.5"/><circle cx="443.28" cy="792.11" r="1.5"/><circle cx="443.7" cy="792.46" r="1.5"/><circle cx="444.12" cy="788.57" r="1.5"/><circle cx="444.54" cy="791.5" r="1.5"/><circle cx="444.96" cy="794.47" r="1.5"/><circle cx="445.38" cy="796.91" r="1.5"/><circle cx="445.8" cy="800.88" r="1.5"/><circle cx="446.22" cy="787.1" r="1.5"/><circle cx="446.64" cy="786.84" r="1.5"/><circle cx="447.06" cy="788.43" r="1.5"/><circle cx="447.48" cy="792.06" r="1.5"/><circle cx="447.9" cy="783.11" r="1.5"/><circle cx="448.32" cy="803.53" r="1.5"/><circle cx="448.74" cy="778.39" r="1.5"/><circle cx="449.16" cy="790.08" r="1.5"/><circle cx="449.58" cy="782.74" r="1.5"/><circle cx="450" cy="782.04" r="1.5"/><circle cx="450.42" cy="787.49" r="1.5"/><circle cx="450.84" cy="802.56" r="1.5"/><circle cx="451.26" cy="778.2" r="1.5"/><circle cx="451.68" cy="778.89" r="1.5"/><circle cx="452.1" cy="778.57" r="1.5"/><circle cx="452.52" cy="776.65" r="1.5"/><circle cx="452.94" cy="801.04" r="1.5"/><circle cx="453.36" cy="772.87" r="1.5"/><circle cx="453.78" cy="787.98" r="1.5"/><circle cx="454.2" cy="790.3" r="1.5"/><circle cx="454.62" cy="791.36" r="1.5"/><circle cx="455.04" cy="800.18" r="1.5"/><circle cx="455.46" cy="791.34" r="1.5"/><circle cx="455.88" cy="781.08" r="1.5"/><circle cx="456.3" cy="784.35" r="1.5"/><circle cx="456.72" cy="791.24" r="1.5"/><circle cx="457.14" cy="780.67" r="1.5"/><circle cx="457.56" cy="781.4" r="1.5"/><circle cx="457.98" cy="789.01" r="1.5"/><circle cx="458.4" cy="783.7" r="1.5"/><circle cx="458.82" cy="804.11" r="1.5"/><circle cx="459.24" cy="783.18" r="1.5"/><circle cx="459.66" cy="791.07" r="1.5"/><circle cx="460.08" cy="777.8" r="1.5"/><circle cx="460.5" cy="786.57" r="1.5"/><circle cx="460.92" cy="789.94" r="1.5"/><circle cx="461.34" cy="783.43" r="1.5"/><circle cx="461.76" cy="789.32" r="1.5"/><circle cx="462.18" cy="785.66" r="1.5"/><circle cx="462.6" cy="797.25" r="1.5"/><circle cx="463.02" cy="777.45" r="1.5"/><circle cx="463.44" cy="788.72" r="1.5"/><circle cx="463.86" cy="796.6" r="1.5"/><circle cx="464.28" cy="784.44" r="1.5"/><circle cx="464.7" cy="793.25" r="1.5"/><circle cx="465.12" cy="788.81" r="1.5"/><circle cx="465.54" cy="794.73" r="1.5"/><circle cx="465.96" cy="819.66" r="1.5"/><circle cx="466.38" cy="784.2" r="1.5"/><circle cx="466.8" cy="789.94" r="1.5"/><circle cx="467.22" cy="784.15" r="1.5"/><circle cx="467.64" cy="781.14" r="1.5"/><circle cx="468.06" cy="805.7" r="1.5"/><circle cx="468.48" cy="800.41" r="1.5"/><circle cx="468.9" cy="791.51" r="1.5"/><circle cx="469.32" cy="778.98" r="1.5"/><circle cx="469.74" cy="811.47" r="1.5"/><circle cx="470.16" cy="803.25" r="1.5"/><circle cx="470.58" cy="787.83" r="1.5"/><circle cx="471" cy="783.28" r="1.5"/><circle cx="471.42" cy="790.49" r="1.5"/><circle cx="471.84" cy="804.05" r="1.5"/><circle cx="472.26" cy="786.32" r="1.5"/><circle cx="472.68" cy="780.09" r="1.5"/><circle cx="473.1" cy="785.09" r="1.5"/><circle cx="473.52" cy="766.87" r="1.5"/><circle cx="473.94" cy="794.39" r="1.5"/><circle cx="474.36" cy="788.55" r="1.5"/><circle cx="474.78" cy="798.22" r="1.5"/><circle cx="475.2" cy="789.97" r="1.5"/><circle cx="475.62" cy="790.67" r="1.5"/><circle cx="476.04" cy="788.02" r="1.5"/><circle cx="476.46" cy="771.24" r="1.5"/><circle cx="476.88" cy="787.37" r="1.5"/><circle cx="477.3" cy="789.75" r="1.5"/><circle cx="477.72" cy="797.2" r="1.5"/><circle cx="478.14" cy="792.89" r="1.5"/><circle cx="478.56" cy="778.5" r="1.5"/><circle cx="478.98" cy="786.32" r="1.5"/><circle cx="479.4" cy="789.67" r="1.5"/><circle cx="479.82" cy="798.68" r="1.5"/><circle cx="480.24" cy="781.55" r="1.5"/><circle cx="480.66" cy="769.35" r="1.5"/><circle cx="481.08" cy="780.56" r="1.5"/><circle cx="481.5" cy="782.92" r="1.5"/><circle cx="481.92" cy="800.24" r="1.5"/><circle cx="482.34" cy="792.29" r="1.5"/><circle cx="482.76" cy="773.37" r="1.5"/><circle cx="483.18" cy="794.39" r="1.5"/><circle cx="483.6" cy="802.39" r="1.5"/><circle cx="484.02" cy="792.01" r="1.5"/><circle cx="484.44" cy="776.79" r="1.5"/><circle cx="484.86" cy="801.79" r="1.5"/><circle cx="485.28" cy="793.4" r="1.5"/><circle cx="485.7" cy="777.77" r="1.5"/><circle cx="486.12" cy="806.86" r="1.5"/><circle cx="486.54" cy="788.12" r="1.5"/><circle cx="486.96" cy="767.04" r="1.5"/><circle cx="487.38" cy="788.92" r="1.5"/><circle cx="487.8" cy="785.48" r="1.5"/><circle cx="488.22" cy="792.16" r="1.5"/><circle cx="488.64" cy="790.56" r="1.5"/><circle cx="489.06" cy="778.18" r="1.5"/><circle cx="489.48" cy="790.83" r="1.5"/><circle cx="489.9" cy="793.93" r="1.5"/><circle cx="490.32" cy="785.34" r="1.5"/><circle cx="490.74" cy="785.59" r="1.5"/><circle cx="491.16" cy="775.86" r="1.5"/><circle cx="491.58" cy="784.82" r="1.5"/><circle cx="492" cy="781.3" r="1.5"/><circle cx="492.42" cy="785.63" r="1.5"/><circle cx="492.84" cy="782.24" r="1.5"/><circle cx="493.26" cy="769.04" r="1.5"/><circle cx="493.68" cy="791.65" r="1.5"/><circle cx="494.1" cy="779.85" r="1.5"/><circle cx="494.52" cy="783.85" r="1.5"/><circle cx="494.94" cy="777.06" r="1.5"/><circle cx="495.36" cy="786.13" r="1.5"/><circle cx="495.78" cy="782.72" r="1.5"/><circle cx="496.2" cy="802.54" r="1.5"/><circle cx="496.62" cy="769.2" r="1.5"/><circle cx="497.04" cy="774.7" r="1.5"/><circle cx="497.46" cy="786.47" r="1.5"/><circle cx="497.88" cy="774.52" r="1.5"/><circle cx="498.3" cy="783.85" r="1.5"/><circle cx="498.72" cy="810.75" r="1.5"/><circle cx="499.14" cy="789.32" r="1.5"/><circle cx="499.56" cy="787.09" r="1.5"/><circle cx="499.98" cy="792.05" r="1.5"/><circle cx="500.4" cy="791.86" r="1.5"/><circle cx="500.82" cy="790.44" r="1.5"/><circle cx="501.24" cy="787.06" r="1.5"/><circle cx="501.66" cy="783.96" r="1.5"/><circle cx="502.08" cy="798.2" r="1.5"/><circle cx="502.5" cy="794.49" r="1.5"/><circle cx="502.92" cy="786.71" r="1.5"/><circle cx="503.34" cy="787.79" r="1.5"/><circle cx="503.76" cy="776" r="1.5"/><circle cx="504.18" cy="778.82" r="1.5"/><circle cx="504.6" cy="771.46" r="1.5"/><circle cx="505.02" cy="783.98" r="1.5"/><circle cx="505.44" cy="801.41" r="1.5"/><circle cx="505.86" cy="797.65" r="1.5"/><circle cx="506.28" cy="785.51" r="1.5"/><circle cx="506.7" cy="783.27" r="1.5"/><circle cx="507.12" cy="794.03" r="1.5"/><circle cx="507.54" cy="793.84" r="1.5"/><circle cx="507.96" cy="778.41" r="1.5"/><circle cx="508.38" cy="786.06" r="1.5"/><circle cx="508.8" cy="793.08" r="1.5"/><circle cx="509.22" cy="792.82" r="1.5"/><circle cx="509.64" cy="794.39" r="1.5"/><circle cx="510.06" cy="795.74" r="1.5"/><circle cx="510.48" cy="789.55" r="1.5"/><circle cx="510.9" cy="781.99" r="1.5"/><circle cx="511.32" cy="771.98" r="1.5"/><circle cx="511.74" cy="779.14" r="1.5"/><circle cx="512.16" cy="795.21" r="1.5"/><circle cx="512.58" cy="801.35" r="1.5"/><circle cx="513" cy="794.81" r="1.5"/><circle cx="513.42" cy="782.5" r="1.5"/><circle cx="513.84" cy="770.14" r="1.5"/><circle cx="514.26" cy="794.81" r="1.5"/><circle cx="514.68" cy="776.69" r="1.5"/><circle cx="515.1" cy="784.57" r="1.5"/><circle cx="515.52" cy="801.45" r="1.5"/><circle cx="515.94" cy="780.17" r="1.5"/><circle cx="516.36" cy="782.38" r="1.5"/><circle cx="516.78" cy="792.08" r="1.5"/></g>
<path d="M384.26,787.1 L384.26,787 L384.57,786.96 L384.88,786.92 L385.2,786.86 L385.51,786.79 L385.82,786.7 L386.13,786.58 L386.44,786.44 L386.76,786.26 L387.07,786.04 L387.38,785.77 L387.69,785.44 L388,785.05 L388.32,784.57 L388.63,784.01 L388.94,783.34 L389.25,782.56 L389.56,781.65 L389.88,780.6 L390.19,779.4 L390.5,778.03 L390.81,776.49 L391.12,774.77 L391.44,772.86 L391.75,770.76 L392.06,768.47 L392.37,766 L392.68,763.34 L393,760.53 L393.31,757.57 L393.62,754.49 L393.93,751.32 L394.24,748.09 L394.56,744.84 L394.87,741.61 L395.18,738.45 L395.49,735.4 L395.8,732.51 L396.12,729.82 L396.43,727.39 L396.74,725.25 L397.05,723.44 L397.36,722 L397.68,720.95 L397.99,720.31 L398.3,720.1 L398.61,720.31 L398.92,720.95 L399.24,722 L399.55,723.44 L399.86,725.25 L400.17,727.39 L400.48,729.82 L400.8,732.51 L401.11,735.4 L401.42,738.45 L401.73,741.61 L402.04,744.84 L402.36,748.09 L402.67,751.32 L402.98,754.49 L403.29,757.57 L403.6,760.53 L403.92,763.34 L404.23,766 L404.54,768.47 L404.85,770.76 L405.16,772.86 L405.48,774.77 L405.79,776.49 L406.1,778.03 L406.41,779.4 L406.72,780.6 L407.04,781.65 L407.35,782.56 L407.66,783.34 L407.97,784.01 L408.28,784.57 L408.6,785.05 L408.91,785.44 L409.22,785.77 L409.53,786.04 L409.84,786.26 L410.16,786.44 L410.47,786.58 L410.78,786.7 L411.09,786.79 L411.4,786.86 L411.72,786.92 L412.03,786.96 L412.34,787 L412.34,787.1 Z" fill="url(#gP)"/>
<path d="M416.28,787.1 L416.28,786.95 L416.62,786.9 L416.95,786.84 L417.29,786.76 L417.62,786.65 L417.96,786.52 L418.3,786.36 L418.63,786.15 L418.97,785.89 L419.3,785.57 L419.64,785.18 L419.98,784.71 L420.31,784.14 L420.65,783.45 L420.98,782.63 L421.32,781.67 L421.66,780.54 L421.99,779.23 L422.33,777.72 L422.66,775.98 L423,774.01 L423.34,771.79 L423.67,769.31 L424.01,766.55 L424.34,763.52 L424.68,760.21 L425.02,756.64 L425.35,752.81 L425.69,748.75 L426.02,744.48 L426.36,740.03 L426.7,735.45 L427.03,730.79 L427.37,726.1 L427.7,721.45 L428.04,716.88 L428.38,712.48 L428.71,708.31 L429.05,704.43 L429.38,700.92 L429.72,697.83 L430.06,695.23 L430.39,693.15 L430.73,691.63 L431.06,690.71 L431.4,690.4 L431.74,690.71 L432.07,691.63 L432.41,693.15 L432.74,695.23 L433.08,697.83 L433.42,700.92 L433.75,704.43 L434.09,708.31 L434.42,712.48 L434.76,716.88 L435.1,721.45 L435.43,726.1 L435.77,730.79 L436.1,735.45 L436.44,740.03 L436.78,744.48 L437.11,748.75 L437.45,752.81 L437.78,756.64 L438.12,760.21 L438.46,763.52 L438.79,766.55 L439.13,769.31 L439.46,771.79 L439.8,774.01 L440.14,775.98 L440.47,777.72 L440.81,779.23 L441.14,780.54 L441.48,781.67 L441.82,782.63 L442.15,783.45 L442.49,784.14 L442.82,784.71 L443.16,785.18 L443.5,785.57 L443.83,785.89 L444.17,786.15 L444.5,786.36 L444.84,786.52 L445.18,786.65 L445.51,786.76 L445.85,786.84 L446.18,786.9 L446.52,786.95 L446.52,787.1 Z" fill="url(#gY)"/>
<line x1="382" y1="787.1" x2="446" y2="787.1" stroke="#40e040" stroke-width="1.1"/>
<path d="M370,787.1 L370.6,787.1 L371.2,787.1 L371.81,787.1 L372.41,787.1 L373.01,787.1 L373.61,787.1 L374.22,787.1 L374.82,787.1 L375.42,787.1 L376.02,787.1 L376.62,787.1 L377.23,787.1 L377.83,787.1 L378.43,787.1 L379.03,787.1 L379.64,787.1 L380.24,787.1 L380.84,787.1 L381.44,787.09 L382.04,787.09 L382.65,787.08 L383.25,787.06 L383.85,787.03 L384.45,786.98 L385.06,786.89 L385.66,786.75 L386.26,786.53 L386.86,786.19 L387.47,785.69 L388.07,784.96 L388.67,783.92 L389.27,782.5 L389.87,780.61 L390.48,778.14 L391.08,775.03 L391.68,771.23 L392.28,766.72 L392.89,761.54 L393.49,755.81 L394.09,749.69 L394.69,743.42 L395.29,737.31 L395.9,731.69 L396.5,726.88 L397.1,723.19 L397.7,720.88 L398.31,720.1 L398.91,720.91 L399.51,723.25 L400.11,726.96 L400.71,731.79 L401.32,737.43 L401.92,743.54 L402.52,749.8 L403.12,755.92 L403.73,761.64 L404.33,766.81 L404.93,771.31 L405.53,775.1 L406.13,778.19 L406.74,780.65 L407.34,782.53 L407.94,783.95 L408.54,784.97 L409.15,785.7 L409.75,786.2 L410.35,786.53 L410.95,786.75 L411.56,786.89 L412.16,786.98 L412.76,787.03 L413.36,787.05 L413.96,787.06 L414.57,787.06 L415.17,787.04 L415.77,787 L416.37,786.94 L416.98,786.83 L417.58,786.67 L418.18,786.42 L418.78,786.04 L419.38,785.49 L419.99,784.69 L420.59,783.58 L421.19,782.06 L421.79,780.03 L422.4,777.39 L423,774.03 L423.6,769.86 L424.2,764.83 L424.8,758.92 L425.41,752.16 L426.01,744.67 L426.61,736.62 L427.21,728.26 L427.82,719.91 L428.42,711.94 L429.02,704.74 L429.62,698.68 L430.22,694.11 L430.83,691.3 L431.43,690.4 L432.03,691.49 L432.63,694.48 L433.24,699.21 L433.84,705.4 L434.44,712.69 L435.04,720.71 L435.64,729.08 L436.25,737.42 L436.85,745.43 L437.45,752.85 L438.05,759.53 L438.66,765.36 L439.26,770.3 L439.86,774.39 L440.46,777.67 L441.07,780.25 L441.67,782.23 L442.27,783.7 L442.87,784.78 L443.47,785.55 L444.08,786.08 L444.68,786.45 L445.28,786.69 L445.88,786.85 L446.49,786.95 L447.09,787.01 L447.69,787.05 L448.29,787.07 L448.89,787.08 L449.5,787.09 L450.1,787.1 L450.7,787.1 L451.3,787.1 L451.91,787.1 L452.51,787.1 L453.11,787.1 L453.71,787.1 L454.31,787.1 L454.92,787.1 L455.52,787.1 L456.12,787.1 L456.72,787.1 L457.33,787.1 L457.93,787.1 L458.53,787.1 L459.13,787.1 L459.73,787.1 L460.34,787.1 L460.94,787.1 L461.54,787.1 L462.14,787.1 L462.75,787.1 L463.35,787.1 L463.95,787.1 L464.55,787.1 L465.16,787.1 L465.76,787.1 L466.36,787.1 L466.96,787.1 L467.56,787.1 L468.17,787.1 L468.77,787.1 L469.37,787.1 L469.97,787.1 L470.58,787.1 L471.18,787.1 L471.78,787.1 L472.38,787.1 L472.98,787.1 L473.59,787.1 L474.19,787.1 L474.79,787.1 L475.39,787.1 L476,787.1 L476.6,787.1 L477.2,787.1" fill="none" stroke="#3a3ae8" stroke-width="1.05"/>
<rect x="306.6" y="656.6" width="210.7" height="169.3" fill="none" stroke="#606060" stroke-width="1.25"/>
<line x1="500.59" y1="825.9" x2="500.59" y2="827.8" stroke="#606060" stroke-width="1.1"/>
<line x1="473.65" y1="825.9" x2="473.65" y2="829.5" stroke="#606060" stroke-width="1.1"/>
<text x="473.65" y="839" font-size="9" text-anchor="middle">360</text>
<line x1="446.71" y1="825.9" x2="446.71" y2="827.8" stroke="#606060" stroke-width="1.1"/>
<line x1="419.76" y1="825.9" x2="419.76" y2="829.5" stroke="#606060" stroke-width="1.1"/>
<text x="419.76" y="839" font-size="9" text-anchor="middle">370</text>
<line x1="392.82" y1="825.9" x2="392.82" y2="827.8" stroke="#606060" stroke-width="1.1"/>
<line x1="365.88" y1="825.9" x2="365.88" y2="829.5" stroke="#606060" stroke-width="1.1"/>
<text x="365.88" y="839" font-size="9" text-anchor="middle">380</text>
<line x1="338.93" y1="825.9" x2="338.93" y2="827.8" stroke="#606060" stroke-width="1.1"/>
<line x1="311.99" y1="825.9" x2="311.99" y2="829.5" stroke="#606060" stroke-width="1.1"/>
<text x="311.99" y="839" font-size="9" text-anchor="middle">390</text>
<text x="411.95" y="855" font-size="10.4" text-anchor="middle">Binding Energy (ev)</text>
<text transform="translate(293.3,738) rotate(-90)" font-size="10.6" text-anchor="middle">Intensity (a.u.)</text>
<text x="513.6" y="669.7" font-size="10.4" text-anchor="end">Ag 3d</text>
<text x="414.9" y="676" font-size="8.8">Ag 3d5/2</text>
<text x="383.5" y="700" font-size="8.8">Ag 3d3/2</text>
</svg>
</body></html>
